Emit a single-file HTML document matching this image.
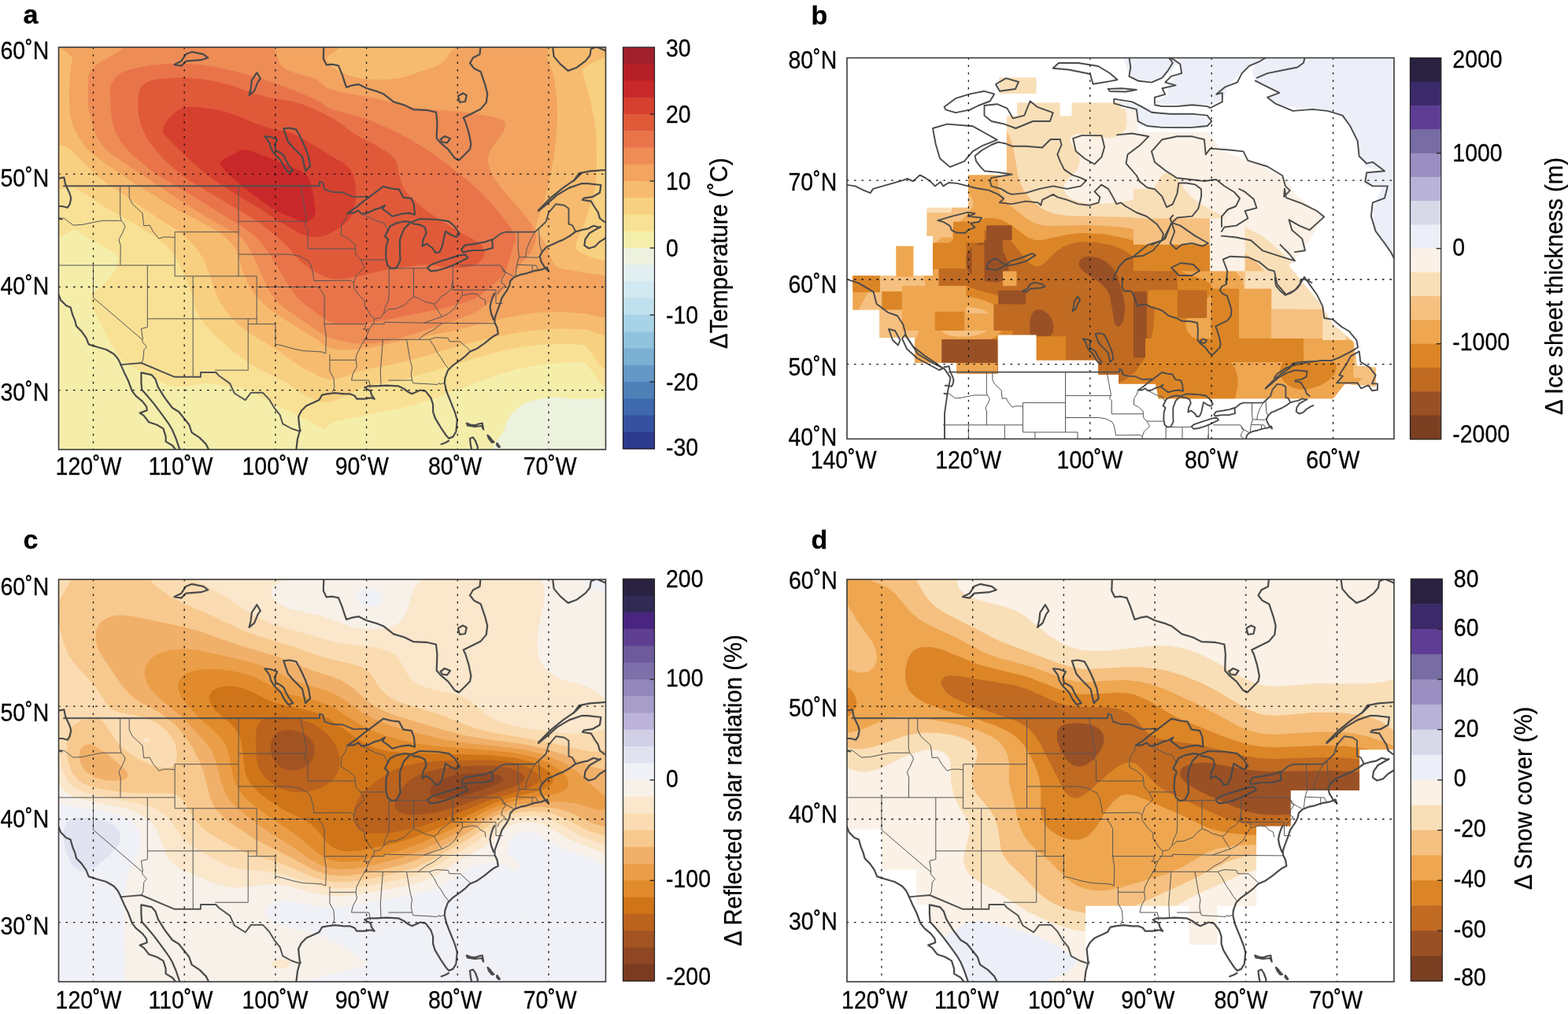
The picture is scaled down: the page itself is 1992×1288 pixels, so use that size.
<!DOCTYPE html>
<html><head><meta charset="utf-8"><title>Figure</title>
<style>
html,body{margin:0;padding:0;background:#fff;}
svg{display:block;}
text{font-family:"Liberation Sans", Arial, Helvetica, sans-serif;fill:#000;stroke:#000;stroke-width:0.3;}
.g{stroke:#111;stroke-width:1.3;stroke-dasharray:2.6 6.85;stroke-dashoffset:-9;fill:none;}
.coast{fill:none;stroke:#4a4a4a;stroke-width:2.2;stroke-linejoin:round;stroke-linecap:round;}
.state{fill:none;stroke:#555;stroke-width:1.0;stroke-linejoin:round;}
.coastb{fill:none;stroke:#4a4a4a;stroke-width:1.9;stroke-linejoin:round;stroke-linecap:round;}
.intl{fill:none;stroke:#505050;stroke-width:1.9;stroke-linejoin:round;}
.lake{stroke:#4a4a4a;stroke-width:2.2;stroke-linejoin:round;}
</style></head>
<body>
<svg width="1992" height="1288" viewBox="0 0 1992 1288">
<rect width="1992" height="1288" fill="#fff"/>
<defs><clipPath id="ca"><rect x="74.5" y="60.0" width="695.0" height="511.0"/></clipPath><clipPath id="cb"><rect x="1076.0" y="73.5" width="695.0" height="484.0"/></clipPath><clipPath id="cc"><rect x="74.5" y="736.0" width="695.0" height="511.0"/></clipPath><clipPath id="cd"><rect x="1076.0" y="736.0" width="695.0" height="511.0"/></clipPath></defs>
<g clip-path="url(#ca)"><rect x="72.5" y="58.0" width="699.0" height="515.0" fill="#f5eeab"/><path d="M636.0,580.0C612.8,574.2 638.5,554.2 641.0,545.0C643.5,535.8 646.0,530.7 651.0,525.0C656.0,519.3 662.8,514.3 671.0,511.0C679.2,507.7 690.2,505.7 700.0,505.0C709.8,504.3 716.7,505.7 730.0,507.0C743.3,508.3 771.7,500.8 780.0,513.0C788.3,525.2 804.0,568.8 780.0,580.0C756.0,591.2 659.2,585.8 636.0,580.0Z" fill="#edf2df"/><path d="M60.0,50.0C180.0,11.5 660.0,-18.7 780.0,50.0C900.0,118.7 786.7,393.7 780.0,462.0C773.3,530.3 753.3,460.0 740.0,460.0C726.7,460.0 713.2,460.7 700.0,462.0C686.8,463.3 674.2,465.0 661.0,468.0C647.8,471.0 634.3,475.5 621.0,480.0C607.7,484.5 594.3,490.0 581.0,495.0C567.7,500.0 554.2,505.8 541.0,510.0C527.8,514.2 515.2,517.0 502.0,520.0C488.8,523.0 475.3,525.2 462.0,528.0C448.7,530.8 430.3,534.2 422.0,537.0C413.7,539.8 417.0,545.3 412.0,545.0C407.0,544.7 398.7,538.3 392.0,535.0C385.3,531.7 378.7,528.3 372.0,525.0C365.3,521.7 358.5,518.3 352.0,515.0C345.5,511.7 339.5,508.3 333.0,505.0C326.5,501.7 319.7,497.3 313.0,495.0C306.3,492.7 301.3,492.3 293.0,491.0C284.7,489.7 273.0,487.0 263.0,487.0C253.0,487.0 241.3,490.7 233.0,491.0C224.7,491.3 219.7,491.0 213.0,489.0C206.3,487.0 200.3,482.7 193.0,479.0C185.7,475.3 175.7,471.0 169.0,467.0C162.3,463.0 157.8,460.3 153.0,455.0C148.2,449.7 143.8,441.7 140.0,435.0C136.2,428.3 133.3,421.7 130.0,415.0C126.7,408.3 122.3,401.5 120.0,395.0C117.7,388.5 114.3,381.5 116.0,376.0C117.7,370.5 125.2,367.2 130.0,362.0C134.8,356.8 141.7,350.7 145.0,345.0C148.3,339.3 150.8,332.5 150.0,328.0C149.2,323.5 145.3,321.7 140.0,318.0C134.7,314.3 125.3,310.2 118.0,306.0C110.7,301.8 105.7,297.2 96.0,293.0C86.3,288.8 66.0,321.5 60.0,281.0C54.0,240.5 -60.0,88.5 60.0,50.0Z" fill="#f8e195"/><path d="M60.0,50.0C180.0,21.3 660.0,-15.2 780.0,50.0C900.0,115.2 786.7,376.3 780.0,441.0C773.3,505.7 753.3,438.7 740.0,438.0C726.7,437.3 713.2,436.5 700.0,437.0C686.8,437.5 674.2,438.8 661.0,441.0C647.8,443.2 634.3,446.5 621.0,450.0C607.7,453.5 594.3,458.0 581.0,462.0C567.7,466.0 554.2,470.3 541.0,474.0C527.8,477.7 515.2,481.0 502.0,484.0C488.8,487.0 475.3,487.7 462.0,492.0C448.7,496.3 432.0,507.3 422.0,510.0C412.0,512.7 408.7,509.8 402.0,508.0C395.3,506.2 388.7,502.8 382.0,499.0C375.3,495.2 368.7,489.0 362.0,485.0C355.3,481.0 348.7,478.3 342.0,475.0C335.3,471.7 328.5,469.0 322.0,465.0C315.5,461.0 309.5,456.0 303.0,451.0C296.5,446.0 289.7,441.0 283.0,435.0C276.3,429.0 268.5,421.5 263.0,415.0C257.5,408.5 253.0,402.5 250.0,396.0C247.0,389.5 247.0,382.3 245.0,376.0C243.0,369.7 240.5,364.0 238.0,358.0C235.5,352.0 233.0,346.0 230.0,340.0C227.0,334.0 223.8,327.3 220.0,322.0C216.2,316.7 212.8,312.8 207.0,308.0C201.2,303.2 192.5,297.8 185.0,293.0C177.5,288.2 169.5,283.3 162.0,279.0C154.5,274.7 147.3,271.3 140.0,267.0C132.7,262.7 125.3,257.7 118.0,253.0C110.7,248.3 105.7,244.2 96.0,239.0C86.3,233.8 66.0,253.5 60.0,222.0C54.0,190.5 -60.0,78.7 60.0,50.0Z" fill="#f8d081"/><path d="M60.0,50.0C172.0,28.3 618.7,43.3 732.0,50.0C845.3,56.7 737.3,78.3 740.0,90.0C742.7,101.7 745.3,108.5 748.0,120.0C750.7,131.5 754.3,145.8 756.0,159.0C757.7,172.2 758.0,185.7 758.0,199.0C758.0,212.3 758.3,225.7 756.0,239.0C753.7,252.3 748.0,267.2 744.0,279.0C740.0,290.8 732.7,302.8 732.0,310.0C731.3,317.2 733.7,318.3 740.0,322.0C746.3,325.7 763.3,330.3 770.0,332.0C776.7,333.7 778.3,317.3 780.0,332.0C781.7,346.7 786.7,405.7 780.0,420.0C773.3,434.3 753.3,418.3 740.0,418.0C726.7,417.7 713.2,417.3 700.0,418.0C686.8,418.7 674.2,420.0 661.0,422.0C647.8,424.0 634.3,427.0 621.0,430.0C607.7,433.0 594.3,436.3 581.0,440.0C567.7,443.7 554.2,448.3 541.0,452.0C527.8,455.7 515.2,459.0 502.0,462.0C488.8,465.0 475.3,466.7 462.0,470.0C448.7,473.3 433.7,481.8 422.0,482.0C410.3,482.2 400.3,474.8 392.0,471.0C383.7,467.2 378.7,463.3 372.0,459.0C365.3,454.7 358.2,449.2 352.0,445.0C345.8,440.8 340.7,437.5 335.0,434.0C329.3,430.5 323.8,428.0 318.0,424.0C312.2,420.0 305.5,415.3 300.0,410.0C294.5,404.7 289.3,398.3 285.0,392.0C280.7,385.7 277.2,379.3 274.0,372.0C270.8,364.7 269.0,355.8 266.0,348.0C263.0,340.2 260.3,332.2 256.0,325.0C251.7,317.8 245.8,310.8 240.0,305.0C234.2,299.2 227.8,294.8 221.0,290.0C214.2,285.2 206.3,280.8 199.0,276.0C191.7,271.2 184.3,266.0 177.0,261.0C169.7,256.0 162.3,251.0 155.0,246.0C147.7,241.0 140.3,236.7 133.0,231.0C125.7,225.3 117.8,218.5 111.0,212.0C104.2,205.5 97.2,196.5 92.0,192.0C86.8,187.5 85.3,187.0 80.0,185.0C74.7,183.0 63.3,202.5 60.0,180.0C56.7,157.5 -52.0,71.7 60.0,50.0Z" fill="#f6bb6f"/><path d="M103.0,50.0C156.0,45.8 358.0,45.8 410.0,50.0C462.0,54.2 411.7,68.3 415.0,75.0C418.3,81.7 422.2,85.8 430.0,90.0C437.8,94.2 450.0,98.3 462.0,100.0C474.0,101.7 490.5,101.3 502.0,100.0C513.5,98.7 521.2,95.3 531.0,92.0C540.8,88.7 551.0,86.2 561.0,80.0C571.0,73.8 570.2,60.0 591.0,55.0C611.8,50.0 668.5,46.5 686.0,50.0C703.5,53.5 693.0,67.7 696.0,76.0C699.0,84.3 702.0,89.3 704.0,100.0C706.0,110.7 707.7,126.8 708.0,140.0C708.3,153.2 707.3,165.8 706.0,179.0C704.7,192.2 702.7,205.7 700.0,219.0C697.3,232.3 693.2,247.3 690.0,259.0C686.8,270.7 681.0,281.3 681.0,289.0C681.0,296.7 687.5,300.5 690.0,305.0C692.5,309.5 694.3,312.2 696.0,316.0C697.7,319.8 697.7,324.0 700.0,328.0C702.3,332.0 703.3,337.0 710.0,340.0C716.7,343.0 729.2,343.3 740.0,346.0C750.8,348.7 769.2,347.0 775.0,356.0C780.8,365.0 780.8,393.0 775.0,400.0C769.2,407.0 752.5,398.7 740.0,398.0C727.5,397.3 713.2,395.7 700.0,396.0C686.8,396.3 674.2,397.8 661.0,400.0C647.8,402.2 634.3,405.8 621.0,409.0C607.7,412.2 594.3,416.0 581.0,419.0C567.7,422.0 554.2,424.3 541.0,427.0C527.8,429.7 515.2,432.3 502.0,435.0C488.8,437.7 475.3,441.7 462.0,443.0C448.7,444.3 432.0,445.0 422.0,443.0C412.0,441.0 408.7,435.0 402.0,431.0C395.3,427.0 388.7,423.2 382.0,419.0C375.3,414.8 368.7,410.5 362.0,406.0C355.3,401.5 348.7,397.7 342.0,392.0C335.3,386.3 327.5,379.7 322.0,372.0C316.5,364.3 312.7,355.0 309.0,346.0C305.3,337.0 304.0,325.7 300.0,318.0C296.0,310.3 290.7,305.0 285.0,300.0C279.3,295.0 272.8,292.0 266.0,288.0C259.2,284.0 251.5,280.0 244.0,276.0C236.5,272.0 228.5,268.3 221.0,264.0C213.5,259.7 206.3,254.5 199.0,250.0C191.7,245.5 184.3,241.7 177.0,237.0C169.7,232.3 162.8,227.3 155.0,222.0C147.2,216.7 137.5,210.7 130.0,205.0C122.5,199.3 115.3,193.8 110.0,188.0C104.7,182.2 101.3,176.3 98.0,170.0C94.7,163.7 91.7,158.3 90.0,150.0C88.3,141.7 88.2,128.8 88.0,120.0C87.8,111.2 88.3,104.5 89.0,97.0C89.7,89.5 89.7,82.8 92.0,75.0C94.3,67.2 50.0,54.2 103.0,50.0Z" fill="#f2a460"/><path d="M112.0,104.0C112.2,97.3 111.2,97.7 113.0,94.0C114.8,90.3 117.7,86.2 123.0,82.0C128.3,77.8 138.0,73.0 145.0,69.0C152.0,65.0 155.8,61.2 165.0,58.0C174.2,54.8 172.5,51.3 200.0,50.0C227.5,48.7 303.3,44.0 330.0,50.0C356.7,56.0 348.3,77.7 360.0,86.0C371.7,94.3 389.7,95.3 400.0,100.0C410.3,104.7 408.3,109.7 422.0,114.0C435.7,118.3 465.5,122.3 482.0,126.0C498.5,129.7 507.8,133.7 521.0,136.0C534.2,138.3 547.7,138.7 561.0,140.0C574.3,141.3 588.3,142.0 601.0,144.0C613.7,146.0 630.3,148.8 637.0,152.0C643.7,155.2 642.0,158.5 641.0,163.0C640.0,167.5 634.3,173.7 631.0,179.0C627.7,184.3 622.7,189.7 621.0,195.0C619.3,200.3 619.3,205.0 621.0,211.0C622.7,217.0 626.0,223.7 631.0,231.0C636.0,238.3 644.3,247.0 651.0,255.0C657.7,263.0 666.0,271.7 671.0,279.0C676.0,286.3 680.3,292.2 681.0,299.0C681.7,305.8 678.3,313.8 675.0,320.0C671.7,326.2 666.7,328.3 661.0,336.0C655.3,343.7 649.3,356.7 641.0,366.0C632.7,375.3 621.0,385.3 611.0,392.0C601.0,398.7 592.7,401.5 581.0,406.0C569.3,410.5 554.2,414.8 541.0,419.0C527.8,423.2 515.2,428.0 502.0,431.0C488.8,434.0 475.3,437.2 462.0,437.0C448.7,436.8 432.3,433.2 422.0,430.0C411.7,426.8 407.0,422.3 400.0,418.0C393.0,413.7 386.7,408.7 380.0,404.0C373.3,399.3 365.8,395.0 360.0,390.0C354.2,385.0 349.5,380.7 345.0,374.0C340.5,367.3 337.2,358.7 333.0,350.0C328.8,341.3 324.7,330.3 320.0,322.0C315.3,313.7 310.3,305.3 305.0,300.0C299.7,294.7 294.5,293.7 288.0,290.0C281.5,286.3 273.3,282.3 266.0,278.0C258.7,273.7 251.3,268.7 244.0,264.0C236.7,259.3 229.3,254.8 222.0,250.0C214.7,245.2 207.3,240.0 200.0,235.0C192.7,230.0 185.5,225.0 178.0,220.0C170.5,215.0 162.2,210.0 155.0,205.0C147.8,200.0 140.5,195.5 135.0,190.0C129.5,184.5 125.2,178.5 122.0,172.0C118.8,165.5 117.7,157.3 116.0,151.0C114.3,144.7 112.7,141.8 112.0,134.0C111.3,126.2 111.8,110.7 112.0,104.0Z" fill="#ee8c56"/><path d="M140.0,116.0C140.2,108.3 140.5,108.0 143.0,104.0C145.5,100.0 148.0,95.3 155.0,92.0C162.0,88.7 174.0,85.8 185.0,84.0C196.0,82.2 208.5,81.2 221.0,81.0C233.5,80.8 246.8,81.3 260.0,83.0C273.2,84.7 285.0,87.2 300.0,91.0C315.0,94.8 333.3,100.2 350.0,106.0C366.7,111.8 388.0,120.5 400.0,126.0C412.0,131.5 411.7,135.0 422.0,139.0C432.3,143.0 448.7,145.3 462.0,150.0C475.3,154.7 490.5,161.5 502.0,167.0C513.5,172.5 521.2,177.0 531.0,183.0C540.8,189.0 552.7,197.0 561.0,203.0C569.3,209.0 574.3,213.7 581.0,219.0C587.7,224.3 594.3,229.0 601.0,235.0C607.7,241.0 614.3,247.7 621.0,255.0C627.7,262.3 635.3,271.5 641.0,279.0C646.7,286.5 653.3,293.8 655.0,300.0C656.7,306.2 653.3,308.3 651.0,316.0C648.7,323.7 646.0,337.7 641.0,346.0C636.0,354.3 627.7,360.3 621.0,366.0C614.3,371.7 611.0,375.7 601.0,380.0C591.0,384.3 574.3,388.7 561.0,392.0C547.7,395.3 534.2,397.3 521.0,400.0C507.8,402.7 495.2,406.0 482.0,408.0C468.8,410.0 452.0,411.7 442.0,412.0C432.0,412.3 429.0,412.7 422.0,410.0C415.0,407.3 407.0,401.0 400.0,396.0C393.0,391.0 385.8,386.0 380.0,380.0C374.2,374.0 370.0,367.5 365.0,360.0C360.0,352.5 355.0,343.0 350.0,335.0C345.0,327.0 340.3,318.7 335.0,312.0C329.7,305.3 324.2,300.0 318.0,295.0C311.8,290.0 305.2,286.5 298.0,282.0C290.8,277.5 283.0,273.0 275.0,268.0C267.0,263.0 258.3,257.2 250.0,252.0C241.7,246.8 233.3,242.0 225.0,237.0C216.7,232.0 207.8,227.3 200.0,222.0C192.2,216.7 184.7,210.7 178.0,205.0C171.3,199.3 165.0,193.8 160.0,188.0C155.0,182.2 151.0,176.3 148.0,170.0C145.0,163.7 143.3,159.0 142.0,150.0C140.7,141.0 139.8,123.7 140.0,116.0Z" fill="#e9744a"/><path d="M177.0,116.0C179.3,109.0 182.7,105.8 190.0,103.0C197.3,100.2 210.8,99.5 221.0,99.0C231.2,98.5 239.8,98.7 251.0,100.0C262.2,101.3 274.2,103.3 288.0,107.0C301.8,110.7 318.7,118.0 334.0,122.0C349.3,126.0 365.3,126.3 380.0,131.0C394.7,135.7 410.0,143.3 422.0,150.0C434.0,156.7 442.0,164.8 452.0,171.0C462.0,177.2 473.7,181.7 482.0,187.0C490.3,192.3 497.7,196.7 502.0,203.0C506.3,209.3 505.8,218.5 508.0,225.0C510.2,231.5 510.5,235.8 515.0,242.0C519.5,248.2 527.5,255.7 535.0,262.0C542.5,268.3 551.7,274.5 560.0,280.0C568.3,285.5 576.7,290.0 585.0,295.0C593.3,300.0 605.0,305.0 610.0,310.0C615.0,315.0 616.7,320.3 615.0,325.0C613.3,329.7 607.5,335.5 600.0,338.0C592.5,340.5 580.0,340.3 570.0,340.0C560.0,339.7 550.0,336.0 540.0,336.0C530.0,336.0 520.0,338.5 510.0,340.0C500.0,341.5 490.0,343.0 480.0,345.0C470.0,347.0 459.7,350.5 450.0,352.0C440.3,353.5 430.3,355.2 422.0,354.0C413.7,352.8 407.0,349.0 400.0,345.0C393.0,341.0 386.3,335.8 380.0,330.0C373.7,324.2 367.8,315.8 362.0,310.0C356.2,304.2 351.2,300.0 345.0,295.0C338.8,290.0 332.5,285.0 325.0,280.0C317.5,275.0 308.3,270.0 300.0,265.0C291.7,260.0 283.3,255.0 275.0,250.0C266.7,245.0 257.8,240.0 250.0,235.0C242.2,230.0 235.5,226.0 228.0,220.0C220.5,214.0 212.2,207.0 205.0,199.0C197.8,191.0 189.8,181.0 185.0,172.0C180.2,163.0 177.3,154.3 176.0,145.0C174.7,135.7 174.7,123.0 177.0,116.0Z" fill="#e05a3a"/><path d="M207.0,163.0C209.0,156.0 220.2,142.2 230.0,138.0C239.8,133.8 255.2,136.8 266.0,138.0C276.8,139.2 283.7,141.3 295.0,145.0C306.3,148.7 321.2,155.8 334.0,160.0C346.8,164.2 361.0,165.8 372.0,170.0C383.0,174.2 391.7,180.2 400.0,185.0C408.3,189.8 415.3,194.8 422.0,199.0C428.7,203.2 435.3,205.5 440.0,210.0C444.7,214.5 448.0,219.3 450.0,226.0C452.0,232.7 452.7,241.8 452.0,250.0C451.3,258.2 449.7,268.3 446.0,275.0C442.3,281.7 436.0,285.8 430.0,290.0C424.0,294.2 416.7,298.3 410.0,300.0C403.3,301.7 396.7,301.7 390.0,300.0C383.3,298.3 376.7,293.7 370.0,290.0C363.3,286.3 356.7,282.2 350.0,278.0C343.3,273.8 337.5,269.7 330.0,265.0C322.5,260.3 313.3,255.2 305.0,250.0C296.7,244.8 287.8,239.3 280.0,234.0C272.2,228.7 265.3,224.0 258.0,218.0C250.7,212.0 242.7,204.3 236.0,198.0C229.3,191.7 222.8,185.8 218.0,180.0C213.2,174.2 205.0,170.0 207.0,163.0Z" fill="#d6402f"/><path d="M280.0,206.0C281.3,202.2 290.8,198.7 296.0,196.0C301.2,193.3 305.3,190.0 311.0,190.0C316.7,190.0 323.8,193.8 330.0,196.0C336.2,198.2 341.3,200.3 348.0,203.0C354.7,205.7 363.3,209.0 370.0,212.0C376.7,215.0 383.8,217.2 388.0,221.0C392.2,224.8 393.2,229.3 395.0,235.0C396.8,240.7 398.2,248.8 399.0,255.0C399.8,261.2 401.8,267.5 400.0,272.0C398.2,276.5 393.0,281.3 388.0,282.0C383.0,282.7 376.0,278.3 370.0,276.0C364.0,273.7 357.8,271.2 352.0,268.0C346.2,264.8 340.3,260.7 335.0,257.0C329.7,253.3 325.8,250.5 320.0,246.0C314.2,241.5 305.3,234.5 300.0,230.0C294.7,225.5 291.3,223.0 288.0,219.0C284.7,215.0 278.7,209.8 280.0,206.0Z" fill="#c9282a"/><path class="state" d="M72.2,276.7 L81.5,277.4 L93.0,286.1 L104.6,285.4 L123.1,281.5 L130.1,280.3 L154.1,280.3"/><path class="state" d="M152.7,236.3 L152.7,274.1 L154.1,280.3 L156.7,283.2 L159.0,287.5 L155.5,296.1 L150.9,304.7 L153.2,311.8 L152.9,337.0"/><path class="state" d="M69.9,337.0 L222.1,337.0"/><path class="state" d="M118.5,337.0 L118.5,378.1 L180.6,431.3"/><path class="state" d="M187.3,337.0 L187.3,415.5 L179.4,417.5 L181.3,430.0 L180.6,433.9 L186.4,440.5 L182.9,444.4 L181.8,457.0 L179.6,461.0"/><path class="state" d="M164.2,236.3 L164.2,251.1 L168.3,259.2 L181.0,270.9 L182.7,286.7 L190.2,286.1 L194.3,293.8 L201.8,303.2 L207.6,301.1 L216.8,301.1 L222.1,301.8"/><path class="state" d="M222.1,294.7 L222.1,350.8 L245.2,350.8 L326.2,350.8"/><path class="state" d="M222.1,294.7 L303.0,294.7"/><path class="state" d="M303.0,236.3 L303.0,350.8"/><path class="state" d="M187.3,404.9 L326.2,404.9"/><path class="state" d="M245.2,350.8 L245.2,478.8"/><path class="state" d="M326.2,350.8 L326.2,411.6"/><path class="state" d="M326.2,364.5 L404.3,364.5"/><path class="state" d="M315.2,404.9 L315.2,470.2 L273.3,470.2"/><path class="state" d="M315.2,411.6 L349.9,411.6 L349.9,437.1 L359.2,439.2 L373.0,443.1 L385.8,445.7 L398.5,446.3 L408.9,447.0 L413.8,449.1"/><path class="state" d="M412.1,404.9 L412.1,376.7 L408.9,369.9 L404.3,364.5"/><path class="state" d="M303.0,281.2 L389.7,281.2"/><path class="state" d="M303.0,323.0 L367.3,323.0 L380.0,325.1 L389.2,330.0 L391.0,330.1"/><path class="state" d="M381.9,236.3 L385.8,257.0 L389.2,276.0 L389.7,281.2 L386.3,286.1 L391.0,290.4 L391.0,316.0"/><path class="state" d="M391.0,316.0 L451.5,316.0"/><path class="state" d="M391.0,330.1 L395.0,337.0 L397.9,348.0 L398.8,356.6"/><path class="state" d="M398.8,356.6 L445.6,356.2 L449.4,359.0"/><path class="state" d="M412.1,411.6 L463.9,411.6 L464.8,415.5 L461.3,418.2 L469.1,418.2"/><path class="state" d="M412.1,404.9 L412.1,411.6 L414.3,426.1 L413.8,449.1"/><path class="state" d="M418.9,450.2 L418.9,457.3 L452.1,457.3"/><path class="state" d="M418.9,457.3 L418.9,471.5 L423.9,480.4 L424.8,491.9 L422.2,498.2"/><path class="state" d="M446.5,483.0 L468.7,483.0 L470.2,489.4 L470.2,493.2"/><path class="state" d="M486.4,431.3 L483.3,471.5 L484.1,490.6"/><path class="state" d="M516.5,431.3 L521.4,459.3 L523.5,466.4 L522.3,475.3 L523.5,483.0"/><path class="state" d="M493.4,483.1 L523.5,483.0 L525.1,486.8 L540.8,487.5 L555.8,488.5 L557.7,486.2 L558.7,488.1 L563.9,486.6"/><path class="state" d="M462.1,431.3 L531.3,431.3 L545.4,431.3"/><path class="state" d="M471.4,411.6 L488.2,411.6 L487.9,409.2 L538.5,410.2 L561.9,410.4 L629.1,410.9"/><path class="state" d="M561.9,410.4 L551.2,418.6 L540.8,424.1 L531.3,431.3"/><path class="state" d="M545.4,431.3 L553.5,428.7 L569.3,429.4 L570.9,433.7 L584.8,433.9 L598.1,446.3"/><path class="state" d="M545.4,431.3 L551.2,439.2 L555.8,448.3 L560.5,454.8 L565.1,462.5 L570.9,469.6"/><path class="state" d="M451.5,316.0 L451.7,323.0 L458.1,330.0 L463.3,339.7 L452.9,349.4 L449.4,359.0 L449.4,365.9 L457.5,376.7 L463.3,382.1 L463.3,388.9 L471.4,400.9 L475.7,404.9 L474.9,410.2 L469.1,418.2 L464.4,430.0 L458.7,439.2 L452.9,450.9 L452.1,457.3 L453.5,465.1 L448.2,475.3 L446.5,483.0"/><path class="state" d="M475.7,404.9 L483.0,403.6 L487.6,398.2 L493.4,392.9 L502.6,392.2 L507.3,390.2 L514.2,387.5 L518.8,382.1 L525.8,376.7 L531.5,378.8 L538.5,382.8 L551.2,386.2 L555.8,383.5 L560.5,376.7 L567.4,372.7 L573.2,367.2 L575.3,355.7"/><path class="state" d="M551.2,386.2 L558.2,397.6 L561.6,402.3 L553.5,404.9 L538.5,410.2"/><path class="state" d="M494.2,340.3 L494.2,373.3 L493.4,382.1 L489.9,388.9 L488.2,394.2 L487.6,398.2"/><path class="state" d="M525.5,341.1 L525.5,376.7"/><path class="state" d="M494.5,341.1 L541.4,340.7"/><path class="state" d="M458.2,330.0 L491.1,330.0"/><path class="state" d="M575.3,337.0 L575.3,368.3 L630.0,368.3"/><path class="state" d="M584.1,337.0 L635.1,337.0 L638.0,339.7 L642.6,346.0 L651.9,350.8"/><path class="state" d="M635.1,337.0 L638.0,339.7 L639.1,344.6 L642.6,346.0 L638.0,353.5 L636.8,359.0 L641.5,361.8 L638.0,365.9 L633.4,369.9 L632.7,374.0"/><path class="state" d="M575.3,368.3 L587.3,368.3 L587.3,375.4 L599.8,372.7 L606.8,374.0 L610.2,378.1 L616.0,380.8 L617.2,387.5"/><path class="state" d="M587.3,375.4 L581.3,384.8 L577.8,391.6 L569.7,398.2 L561.6,402.3"/><path class="state" d="M630.0,368.3 L630.0,385.5 L638.6,385.5"/><path class="state" d="M441.3,270.2 L439.0,278.9 L433.8,286.1 L433.2,298.3 L442.5,303.2 L450.6,310.3 L451.5,316.0"/><path class="state" d="M461.0,272.1 L477.2,280.3 L487.6,283.2 L493.4,293.3"/><path class="state" d="M658.2,294.6 L658.2,314.6 L659.4,326.5 L656.5,336.3 L654.8,350.8"/><path class="state" d="M659.4,326.5 L682.0,327.2 L686.6,325.1"/><path class="state" d="M656.5,336.3 L676.2,337.0 L680.8,337.0 L684.3,343.9"/><path class="state" d="M676.2,337.0 L676.2,346.7"/><path class="state" d="M667.5,326.8 L669.2,316.0 L673.9,304.7 L679.6,294.6"/><path class="state" d="M684.5,290.4 L685.7,311.8 L688.9,321.6"/><path class="intl" d="M80.3,236.3 L406.0,236.3 L406.0,230.6 L410.1,231.8 L412.4,240.7 L421.6,243.7 L435.5,244.5 L449.4,250.4 L465.6,249.6 L470.2,251.1"/><path class="intl" d="M624.1,306.1 L635.7,296.8 L642.6,294.7 L679.6,294.6 L684.3,290.4 L693.5,281.8 L697.0,270.2 L706.3,259.2 L716.7,260.7 L722.5,264.8 L722.5,284.6 L727.1,286.1 L731.7,294.7"/><path class="intl" d="M152.1,463.4 L179.6,461.0 L221.8,478.8 L254.9,478.8 L254.9,473.0 L274.3,473.0 L278.2,477.3 L292.1,487.1 L297.8,499.5 L311.7,508.3 L318.7,498.9 L333.7,498.6 L341.8,507.1 L348.7,518.4 L355.7,527.1 L359.2,538.3 L370.7,544.5 L380.0,547.6 L382.9,546.4"/><path class="coast" d="M74.0,373.2 L77.3,381.4 L83.9,388.0 L89.6,390.5 L92.1,399.5 L95.4,407.7 L97.0,414.3 L103.6,420.9 L109.4,429.1 L112.7,437.4 L123.4,440.7 L134.9,444.0 L144.8,449.7 L149.7,455.5 L153.0,462.1 L158.0,473.6 L162.9,483.5 L167.8,496.6 L172.8,503.2 L181.0,509.8 L186.0,516.4 L186.8,521.3 L177.7,524.6 L182.7,527.9 L189.2,536.2 L199.1,539.5 L207.4,544.4 L210.6,554.3 L210.6,560.9 L218.9,565.8 L225.5,574.0"/><path class="coast" d="M179.4,473.6 L179.4,485.1 L180.2,495.0 L186.0,501.6 L195.8,513.1 L205.7,526.3 L214.0,537.8 L218.9,546.0 L223.8,557.6 L227.1,567.4 L229.6,574.0"/><path class="coast" d="M179.4,473.6 L181.0,473.6 L192.5,476.1 L197.5,481.8 L200.8,491.7 L209.0,504.9 L218.9,518.0 L227.1,523.0 L233.7,531.2 L240.3,539.5 L243.6,549.3 L253.5,555.9 L261.7,564.1 L266.6,574.0"/><path class="coast" d="M376.0,574.0 L377.9,558.0 L381.0,546.8 L379.7,535.5 L379.1,529.2 L382.9,521.7 L389.1,515.4 L397.9,511.6 L405.5,507.9 L409.2,501.6 L415.5,500.3 L425.5,499.1 L436.8,500.3 L444.4,500.3 L450.6,502.8 L453.2,506.6 L463.2,506.6 L470.7,505.3 L475.7,506.6 L472.0,501.6 L470.7,496.6 L465.7,494.0 L463.2,492.2 L468.2,490.3 L478.3,490.3 L490.8,489.7 L505.9,490.3 L513.4,494.0 L518.0,497.5 L523.4,500.2 L534.0,495.5 L540.7,496.8 L547.4,505.5 L550.1,513.5 L550.1,522.9 L552.7,530.9 L556.7,537.6 L560.7,544.2 L566.1,552.2 L570.1,556.9 L575.4,554.9 L579.4,548.2 L580.8,533.5 L578.1,524.2 L572.8,510.8 L567.4,497.5 L564.8,486.8 L565.4,480.1 L568.8,470.8 L575.4,464.1 L584.8,457.4 L591.5,452.1 L596.8,446.7 L606.2,442.7 L615.5,436.1 L622.2,430.7 L627.5,426.7 L632.9,424.0 L631.5,416.0 L628.5,410.0 L628.5,404.0 L631.0,397.0 L634.5,387.7 L637.6,378.4 L640.7,373.7 L643.9,369.1 L647.0,362.9 L648.5,356.6 L653.2,352.0 L660.9,348.9 L668.7,347.3 L678.0,344.2 L687.3,342.7 L695.1,339.6 L696.6,344.2 L693.0,341.0 L687.3,331.8 L685.8,325.6 L688.9,319.4 L695.1,313.2 L702.9,310.1 L709.1,307.0 L715.3,304.6 L724.6,299.2 L730.8,294.5 L738.6,292.2 L746.3,290.7 L754.1,286.8 L761.9,289.1"/><path class="coast" d="M627.0,406.0 L624.0,398.0 L622.5,390.0 L624.0,383.0 L626.0,377.0 L628.0,373.0"/><path class="coast" d="M763.0,288.0 L756.0,292.0 L749.0,296.0 L743.5,303.8 L742.4,311.6 L747.9,315.5 L755.6,313.2 L761.9,307.0 L769.6,302.3 L775.0,300.0"/><path class="coast" d="M684.0,268.0 L695.1,258.8 L707.5,247.9 L723.0,238.6 L738.6,233.2 L746.3,233.2 L763.4,235.0 L762.0,244.8 L752.5,250.2 L741.7,251.7 L740.0,254.0 L751.0,255.7 L755.6,263.5 L759.8,269.7 L762.0,277.4 L768.0,282.0"/><path class="coast" d="M684.0,267.0 L699.8,251.1 L715.3,238.6 L730.8,227.8 L738.6,220.0"/><path class="coast" d="M728.6,229.8 L735.6,220.1 L749.4,217.3 L768.8,216.0 L775.0,216.0"/><path class="coast" d="M411.3,56.0 L411.3,60.2 L410.8,74.5 L414.6,82.3 L422.3,81.7 L430.0,83.4 L434.5,94.4 L437.8,104.3 L440.0,110.9 L446.6,108.7 L455.4,107.1 L465.3,112.0 L480.0,116.4 L487.6,119.6 L500.0,129.4 L513.9,133.5 L524.9,139.1 L541.6,139.8 L554.0,142.5 L555.4,155.0 L554.7,175.8 L559.6,181.3 L569.3,189.6 L577.6,200.7 L583.1,203.5 L588.7,198.0 L597.0,189.6 L598.4,182.7 L595.6,168.8 L591.4,155.0 L588.7,149.5 L599.8,143.9 L610.8,138.4 L617.8,130.1 L619.2,119.0 L616.4,107.9 L610.8,91.3 L602.5,87.1 L597.0,80.2 L601.1,73.2 L609.5,69.1 L610.8,56.0"/><path class="coast" d="M702.3,56.0 L702.3,60.8 L703.7,71.9 L712.0,81.6 L721.7,89.9 L732.8,85.7 L743.9,77.4 L749.4,70.5 L750.8,62.2 L757.7,59.4 L767.4,63.5 L772.0,66.0"/><path class="coast" d="M72.0,226.9 L81.4,225.4 L82.8,232.8 L85.8,240.1 L88.7,246.0 L90.2,252.0 L88.7,259.3 L85.8,263.7 L79.0,262.0 L74.0,262.0"/><path class="coast" d="M72.0,277.0 L78.4,278.5"/><path class="coast" d="M560.7,564.3 L566.1,562.3 L570.0,560.0"/><path class="coast" d="M441.6,270.6 L451.1,264.3 L461.6,255.8 L474.3,246.4 L486.9,236.9 L497.5,239.5 L507.0,240.6 L512.2,250.6 L522.8,252.2 L525.9,260.1 L527.0,272.7 L519.6,270.6 L510.1,271.7 L498.5,274.8 L493.3,270.6 L485.9,265.3 L489.0,260.6 L482.7,264.3 L475.3,266.4 L466.9,270.6 L459.5,271.7 L455.3,267.4 L449.0,270.6Z"/><path class="coast" d="M489.0,300.1 L495.4,287.5 L503.8,283.3 L514.3,281.1 L521.7,282.2 L518.6,285.4 L513.3,290.6 L511.2,295.9 L508.0,304.3 L508.0,320.1 L508.5,330.7 L503.8,340.2 L497.5,341.2 L492.2,337.0 L490.1,325.4 L490.6,312.8 L493.3,304.3Z"/><path class="coast" d="M522.8,282.2 L533.3,278.0 L546.0,278.5 L556.5,279.0 L570.2,281.1 L577.6,287.5 L583.9,297.0 L579.7,301.2 L572.3,298.0 L566.0,293.8 L563.9,303.3 L561.8,312.8 L558.6,320.1 L553.3,321.2 L549.1,314.9 L541.7,309.6 L536.5,312.8 L537.5,304.3 L541.7,295.9 L539.6,288.5 L533.3,285.4 L524.9,284.3Z"/><path class="coast" d="M542.8,340.2 L548.1,336.0 L559.7,331.7 L570.2,328.6 L582.9,324.4 L591.3,323.3 L594.5,327.5 L586.0,331.7 L577.6,336.0 L567.0,340.2 L556.5,343.3 L547.0,344.4Z"/><path class="coast" d="M586.0,317.0 L590.2,311.7 L603.9,309.6 L615.5,307.5 L625.0,304.3 L626.1,314.9 L614.5,318.0 L600.8,318.0 L588.1,320.1Z"/><path class="coast" d="M360.3,163.4 L368.0,162.5 L376.2,164.4 L380.0,171.0 L384.1,179.3 L388.0,188.0 L392.1,199.2 L394.1,211.1 L388.1,217.1 L386.0,208.0 L384.1,199.2 L378.0,193.0 L372.2,187.2 L366.0,180.0 L364.3,175.3Z"/><path class="coast" d="M336.4,173.3 L344.0,174.0 L352.3,177.3 L349.0,184.0 L350.3,191.2 L356.0,194.0 L360.3,197.2 L363.0,203.0 L366.3,209.1 L372.2,217.1 L366.3,219.0 L361.0,212.0 L356.3,203.1 L348.4,195.2 L344.0,188.0 L342.4,181.3Z"/><path class="coast" d="M326.4,92.2 L330.8,99.9 L327.5,104.3 L323.1,115.3 L316.5,120.9 L318.7,112.0 L319.8,102.1Z"/><path class="coast" d="M221.5,82.1 L230.3,77.7 L236.2,68.8 L243.6,65.9 L258.4,68.8 L264.3,73.3 L255.4,76.2 L236.2,77.7 L230.3,83.6Z"/><path class="coast" d="M559.6,177.0 L565.0,173.0 L572.0,176.0 L568.0,181.3 L562.0,180.5Z"/><path class="coast" d="M582.0,122.0 L588.0,118.5 L592.8,121.0 L591.0,129.0 L584.0,130.0Z"/><path class="coast" d="M592.8,537.6 L598.0,539.5 L603.5,540.2 L608.0,538.5 L612.8,537.6 L614.2,545.6 L612.0,541.0 L603.0,542.0 L594.0,540.5Z"/><path class="coast" d="M597.0,557.0 L601.0,555.5 L604.0,560.0 L607.0,568.0 L606.0,574.0 L600.0,574.0 L598.0,566.0Z"/><path class="coast" d="M619.5,552.9 L622.0,555.0 L624.8,558.9 L627.5,561.6 L625.0,562.0 L621.0,557.0Z"/><path class="coast" d="M631.5,562.9 L633.0,565.0 L634.9,567.6 L633.5,568.0 L631.0,565.0Z"/><line x1="118.5" y1="60.0" x2="118.5" y2="571.0" class="g"/>
<line x1="234.2" y1="60.0" x2="234.2" y2="571.0" class="g"/>
<line x1="349.9" y1="60.0" x2="349.9" y2="571.0" class="g"/>
<line x1="465.6" y1="60.0" x2="465.6" y2="571.0" class="g"/>
<line x1="581.3" y1="60.0" x2="581.3" y2="571.0" class="g"/>
<line x1="697.0" y1="60.0" x2="697.0" y2="571.0" class="g"/>
<line x1="74.5" y1="495.7" x2="769.5" y2="495.7" class="g"/>
<line x1="74.5" y1="364.5" x2="769.5" y2="364.5" class="g"/>
<line x1="74.5" y1="221.2" x2="769.5" y2="221.2" class="g"/></g><rect x="74.5" y="60.0" width="695.0" height="511.0" fill="none" stroke="#3a3a3a" stroke-width="1.6"/>
<g clip-path="url(#cb)"><rect x="1076.0" y="73.5" width="695.0" height="484.0" fill="#fff"/><defs><clipPath id="iceclip"><path d="M1230.1,222.4 L1424.0,222.4 L1424.0,457.3 L1230.1,457.3Z"/><path d="M1278.9,147.3 L1424.0,147.3 L1424.0,222.4 L1278.9,222.4Z"/><path d="M1292.1,130.4 L1346.6,130.4 L1346.6,147.3 L1292.1,147.3Z"/><path d="M1177.5,263.8 L1230.1,263.8 L1230.1,299.5 L1177.5,299.5Z"/><path d="M1185.0,299.5 L1230.1,299.5 L1230.1,461.1 L1185.0,461.1Z"/><path d="M1138.0,312.6 L1160.6,312.6 L1160.6,354.0 L1138.0,354.0Z"/><path d="M1083.5,350.2 L1185.0,350.2 L1185.0,393.4 L1083.5,393.4Z"/><path d="M1117.3,393.4 L1185.0,393.4 L1185.0,429.1 L1117.3,429.1Z"/><path d="M1162.4,429.1 L1267.7,429.1 L1267.7,461.1 L1162.4,461.1Z"/><path d="M1215.0,461.1 L1267.7,461.1 L1267.7,474.2 L1215.0,474.2Z"/><path d="M1395.4,457.3 L1424.0,457.3 L1424.0,476.1 L1395.4,476.1Z"/><path d="M1269.5,98.4 L1316.5,98.4 L1316.5,119.1 L1269.5,119.1Z"/><path d="M1361.6,130.4 L1424.0,130.4 L1424.0,154.8 L1361.6,154.8Z"/><path d="M1421.1,167.9 L1535.7,167.9 L1550.8,190.5 L1599.6,209.3 L1633.4,228.1 L1648.5,250.6 L1682.3,273.2 L1667.3,299.5 L1656.0,318.3 L1637.2,337.1 L1652.2,355.8 L1674.8,382.2 L1693.6,412.2 L1719.9,434.8 L1723.6,464.8 L1748.1,466.7 L1748.1,491.1 L1708.6,487.4 L1693.6,506.2 L1471.9,506.2 L1468.1,487.4 L1421.1,487.4Z"/><path d="M1421.1,137.9 L1445.5,137.9 L1445.5,167.9 L1421.1,167.9Z"/></clipPath></defs><g clip-path="url(#iceclip)"><rect x="1076.0" y="73.5" width="695.0" height="484.0" fill="#fbf1e6"/><path fill-rule="evenodd" fill="#f9dfb8" d="M1074.0,69.5 1427.7,69.5 1423.0,75.5 1420.3,81.5 1418.6,95.5 1421.3,113.5 1431.2,145.5 1431.9,155.5 1430.2,163.5 1427.8,167.5 1424.0,170.8 1418.0,173.4 1412.0,174.7 1396.0,175.0 1372.0,170.2 1366.0,170.8 1361.5,173.5 1359.5,177.5 1360.0,181.0 1370.0,194.3 1371.5,199.5 1371.7,205.5 1370.4,211.5 1367.3,217.5 1356.0,228.3 1352.4,233.5 1351.5,237.5 1352.0,241.5 1355.1,247.5 1359.4,251.5 1366.0,255.0 1382.0,258.6 1406.0,258.8 1432.9,255.5 1447.3,251.5 1458.0,246.2 1465.6,239.5 1474.0,225.7 1477.5,221.5 1482.0,219.2 1488.0,219.7 1494.0,223.7 1507.3,243.5 1512.7,249.5 1519.9,255.5 1539.8,267.5 1592.0,293.4 1604.0,300.1 1616.0,309.4 1637.1,329.5 1648.0,337.5 1664.0,345.3 1699.3,355.5 1710.0,360.6 1713.3,363.5 1715.7,367.5 1718.9,385.5 1721.7,393.5 1725.6,399.5 1731.7,405.5 1742.0,411.7 1754.0,415.1 1766.0,414.7 1776.0,410.7 1776.0,561.5 1072.0,561.5 1072.0,69.5 1074.0,69.5Z"/><path fill-rule="evenodd" fill="#f5c080" d="M1078.0,151.5 1092.0,150.2 1110.0,150.1 1180.0,154.2 1238.0,150.3 1250.0,151.2 1260.0,153.5 1268.0,157.0 1274.0,161.2 1279.7,167.5 1283.1,173.5 1287.3,187.5 1293.5,223.5 1296.8,233.5 1300.8,241.5 1306.5,249.5 1314.0,257.4 1321.6,263.5 1328.0,267.3 1340.0,271.6 1356.0,274.1 1440.0,275.9 1460.0,277.7 1476.0,280.4 1494.0,285.2 1514.0,292.3 1562.0,311.9 1580.0,320.9 1590.0,327.7 1600.5,337.5 1613.4,353.5 1630.0,378.4 1634.9,383.5 1640.4,387.5 1719.4,427.5 1744.0,439.0 1754.0,442.4 1762.0,443.8 1770.0,443.5 1776.0,441.7 1776.0,561.5 1072.0,561.5 1072.0,152.4 1078.0,151.5ZM1173.2,251.5 1164.0,255.0 1157.2,259.5 1151.7,265.5 1148.7,271.5 1147.7,279.5 1149.0,285.5 1153.1,291.5 1158.0,294.4 1164.0,295.6 1170.0,295.3 1178.0,293.4 1186.0,290.1 1193.7,285.5 1200.0,280.4 1204.7,275.5 1208.4,269.5 1209.3,265.5 1208.6,261.5 1206.0,257.5 1200.5,253.5 1194.0,251.0 1188.0,250.1 1180.0,250.2 1173.2,251.5ZM1736.8,517.5 1725.0,521.5 1715.7,527.5 1711.0,533.5 1710.8,539.5 1716.0,545.5 1729.5,551.5 1742.0,553.4 1748.0,553.0 1752.8,551.5 1757.8,547.5 1760.5,541.5 1760.7,533.5 1758.9,527.5 1754.8,521.5 1750.0,518.3 1744.0,517.0 1736.8,517.5Z"/><path fill-rule="evenodd" fill="#eea650" d="M1202.0,183.3 1220.0,182.0 1234.0,182.8 1246.0,186.1 1254.0,191.3 1260.5,199.5 1264.8,209.5 1266.9,219.5 1268.6,239.5 1272.3,249.5 1277.1,255.5 1288.5,265.5 1304.0,277.5 1314.0,283.2 1322.0,285.7 1332.0,286.9 1378.0,286.0 1408.0,287.0 1428.0,289.0 1446.0,292.2 1462.0,296.5 1475.8,301.5 1514.0,318.6 1548.0,331.4 1560.0,337.7 1567.9,343.5 1574.0,350.1 1578.4,357.5 1580.5,365.5 1579.1,377.5 1566.6,403.5 1565.1,409.5 1565.4,413.5 1568.0,419.5 1572.0,424.4 1578.0,429.8 1586.0,434.9 1594.0,437.7 1602.0,437.8 1638.0,425.7 1650.0,424.1 1660.0,424.4 1674.0,427.2 1690.0,432.7 1706.0,440.5 1720.0,449.5 1728.9,457.5 1733.7,465.5 1734.0,473.5 1729.8,481.5 1721.7,489.5 1710.4,497.5 1661.7,525.5 1654.5,531.5 1652.2,535.5 1652.8,539.5 1654.2,541.5 1662.9,547.5 1676.5,553.5 1700.8,561.5 1072.0,561.5 1072.0,302.2 1088.0,296.6 1092.0,296.3 1094.4,297.5 1098.0,303.2 1102.0,314.4 1106.5,329.5 1108.4,339.5 1108.8,351.5 1106.5,363.5 1091.1,393.5 1086.2,407.5 1085.4,417.5 1088.0,425.2 1092.0,429.1 1096.0,431.1 1108.0,434.2 1142.0,437.8 1156.0,437.1 1160.0,434.8 1164.0,428.9 1174.7,401.5 1176.9,393.5 1177.2,375.5 1172.5,341.5 1172.9,333.5 1175.0,325.5 1179.6,317.5 1185.0,311.5 1219.4,281.5 1229.7,271.5 1235.2,263.5 1236.5,257.5 1234.7,251.5 1230.0,246.4 1222.4,241.5 1212.0,237.0 1200.0,233.4 1190.0,231.8 1180.0,231.3 1168.0,232.3 1152.0,236.3 1138.0,243.4 1125.9,253.5 1106.0,275.0 1102.0,277.9 1098.0,278.3 1094.0,273.8 1081.6,251.5 1072.0,239.1 1072.0,187.1 1144.0,187.4 1174.0,185.9 1202.0,183.3ZM1211.1,391.5 1204.0,393.7 1197.5,397.5 1194.0,401.5 1192.2,405.5 1191.8,411.5 1193.7,417.5 1196.9,421.5 1202.0,424.7 1208.0,426.5 1218.0,427.7 1230.0,427.4 1240.0,426.1 1253.0,421.5 1257.9,417.5 1260.4,413.5 1261.1,407.5 1258.8,401.5 1254.0,396.6 1248.4,393.5 1240.0,391.1 1230.0,390.0 1211.1,391.5Z"/><path fill-rule="evenodd" fill="#dc8526" d="M1252.0,277.2 1262.0,276.7 1274.0,279.9 1286.0,286.8 1306.0,301.9 1316.0,305.3 1326.0,304.6 1358.0,297.5 1376.0,296.0 1404.0,297.5 1432.0,303.2 1448.0,308.9 1460.9,315.5 1472.3,323.5 1490.0,338.4 1498.0,343.5 1508.0,348.0 1528.0,354.4 1536.6,359.5 1540.3,365.5 1540.2,369.5 1538.6,373.5 1533.4,379.5 1518.0,391.1 1511.8,397.5 1507.6,405.5 1506.5,411.5 1506.8,415.5 1509.0,421.5 1514.3,427.5 1520.7,431.5 1542.0,441.5 1556.0,451.4 1563.8,459.5 1569.8,469.5 1572.5,479.5 1572.4,491.5 1569.8,503.5 1562.3,527.5 1560.9,537.5 1561.5,543.5 1563.3,549.5 1570.5,561.5 1214.9,561.5 1234.5,549.5 1237.6,545.5 1237.6,543.5 1235.1,539.5 1220.0,527.5 1214.0,521.5 1209.6,515.5 1205.6,507.5 1202.0,495.5 1200.4,483.5 1200.8,469.5 1203.2,459.5 1206.4,453.5 1209.8,449.5 1218.0,443.9 1228.0,440.0 1254.0,432.9 1265.2,427.5 1269.9,423.5 1272.9,419.5 1275.3,413.5 1275.8,407.5 1274.6,401.5 1271.7,395.5 1268.0,391.1 1262.0,386.6 1250.0,381.6 1219.3,373.5 1212.0,370.0 1206.3,365.5 1200.5,357.5 1197.1,349.5 1195.1,339.5 1195.2,331.5 1196.9,323.5 1199.6,317.5 1203.7,311.5 1211.0,303.5 1222.0,294.0 1234.0,285.5 1244.0,279.9 1252.0,277.2ZM1072.3,327.5 1077.5,333.5 1081.5,341.5 1083.8,349.5 1084.5,357.5 1082.4,371.5 1072.0,403.4 1072.3,327.5ZM1652.0,445.3 1660.0,444.5 1670.0,445.6 1680.0,448.8 1688.7,453.5 1694.0,458.1 1697.4,463.5 1697.8,469.5 1695.3,475.5 1690.0,481.4 1684.0,485.8 1676.0,490.0 1665.8,493.5 1658.0,494.8 1650.0,494.5 1642.0,492.3 1636.0,489.1 1630.1,483.5 1626.9,477.5 1626.0,471.5 1626.9,465.5 1629.9,459.5 1636.0,453.0 1644.0,448.0 1652.0,445.3ZM1100.0,465.3 1106.0,466.2 1110.0,468.6 1113.7,473.5 1114.7,477.5 1114.3,483.5 1111.3,489.5 1106.3,493.5 1102.0,494.6 1098.0,493.9 1094.0,490.8 1091.3,485.5 1090.3,479.5 1090.9,473.5 1092.6,469.5 1096.0,466.4 1100.0,465.3Z"/><path fill-rule="evenodd" fill="#c06a22" d="M1246.0,293.2 1252.0,291.9 1260.0,292.1 1268.0,294.4 1274.0,297.5 1285.8,307.5 1306.0,332.6 1310.0,335.9 1316.0,338.2 1322.0,337.5 1326.0,335.2 1341.5,319.5 1350.0,313.7 1360.4,309.5 1372.0,307.3 1392.0,307.6 1411.8,311.5 1428.0,317.9 1442.2,327.5 1452.6,339.5 1459.6,353.5 1464.9,373.5 1466.7,393.5 1465.4,415.5 1460.9,437.5 1452.8,457.5 1443.1,471.5 1434.0,479.5 1422.0,485.9 1408.0,489.8 1392.0,491.5 1382.0,491.1 1372.0,489.3 1362.0,485.6 1340.0,474.6 1332.0,472.8 1326.0,472.9 1320.0,474.6 1314.0,478.3 1308.0,484.4 1291.4,505.5 1284.0,511.5 1274.0,516.3 1262.0,518.8 1250.0,518.3 1238.0,514.3 1228.1,507.5 1220.4,497.5 1216.1,485.5 1215.6,471.5 1218.9,461.5 1224.0,455.3 1233.0,449.5 1243.7,445.5 1268.0,438.7 1278.0,433.6 1282.5,429.5 1286.0,424.2 1288.4,417.5 1289.4,411.5 1289.1,401.5 1287.2,393.5 1284.0,386.8 1279.2,381.5 1268.0,375.4 1240.0,367.7 1229.7,363.5 1219.1,355.5 1212.9,345.5 1210.8,337.5 1210.7,329.5 1212.8,321.5 1215.9,315.5 1222.0,308.2 1229.9,301.5 1238.0,296.5 1246.0,293.2Z"/><path fill-rule="evenodd" fill="#9a5025" d="M1246.0,307.3 1254.0,306.5 1262.0,308.6 1269.2,313.5 1275.6,321.5 1279.9,331.5 1281.5,341.5 1280.4,349.5 1278.0,353.5 1275.6,355.5 1271.0,357.5 1264.0,358.6 1250.0,357.2 1238.0,352.0 1232.7,347.5 1229.7,343.5 1226.4,333.5 1226.7,327.5 1228.7,321.5 1232.0,316.5 1236.0,312.6 1246.0,307.3ZM1384.0,325.4 1395.7,327.5 1406.0,333.0 1414.5,341.5 1420.0,351.2 1427.3,377.5 1429.2,391.5 1427.6,405.5 1426.0,409.7 1422.0,414.4 1420.0,414.8 1418.0,413.7 1416.0,410.4 1410.6,379.5 1408.9,373.5 1405.8,367.5 1398.0,359.5 1377.4,345.5 1373.3,341.5 1371.0,337.5 1370.6,333.5 1372.5,329.5 1378.0,326.3 1384.0,325.4ZM1318.0,393.1 1322.0,393.2 1326.0,394.7 1332.0,399.2 1336.3,405.5 1338.7,413.5 1337.9,421.5 1334.1,427.5 1328.0,431.4 1322.0,432.9 1316.0,432.5 1312.0,430.3 1309.3,425.5 1308.2,419.5 1308.2,409.5 1310.0,400.9 1313.2,395.5 1318.0,393.1ZM1254.0,453.2 1270.0,451.5 1282.0,452.9 1286.0,454.9 1288.0,457.0 1289.7,463.5 1289.0,469.5 1286.5,477.5 1279.3,489.5 1274.0,494.6 1268.0,498.4 1262.0,500.6 1256.0,501.5 1246.0,499.7 1238.0,494.6 1232.7,487.5 1229.9,477.5 1230.9,469.5 1236.0,461.5 1244.0,456.3 1254.0,453.2Z"/><rect x="1177.3" y="270.0" width="32.7" height="31.4" fill="#f5c080"/><rect x="1083.0" y="349.2" width="35.0" height="22.1" fill="#dc8526"/><rect x="1138.9" y="313.1" width="21.0" height="38.4" fill="#eea650"/><rect x="1184.3" y="308.4" width="43.1" height="33.8" fill="#dc8526"/><rect x="1192.5" y="341.0" width="34.9" height="22.2" fill="#c06a22"/><rect x="1211.0" y="281.6" width="39.7" height="26.8" fill="#dc8526"/><rect x="1145.9" y="363.2" width="81.5" height="56.8" fill="#eea650"/><rect x="1120.3" y="370.2" width="25.6" height="23.3" fill="#dc8526"/><rect x="1187.8" y="395.8" width="37.3" height="24.2" fill="#dc8526"/><rect x="1225.1" y="398.1" width="37.3" height="21.9" fill="#eea650"/><rect x="1262.4" y="386.5" width="45.6" height="33.5" fill="#c06a22"/><rect x="1234.4" y="310.8" width="16.3" height="52.4" fill="#c06a22"/><rect x="1253.0" y="286.3" width="32.6" height="18.7" fill="#9a5025"/><rect x="1250.7" y="305.0" width="23.3" height="46.5" fill="#9a5025"/><rect x="1274.0" y="344.5" width="17.5" height="18.7" fill="#eea650"/><rect x="1268.2" y="369.0" width="34.9" height="17.5" fill="#9a5025"/><rect x="1162.4" y="429.1" width="33.9" height="28.2" fill="#eea650"/><rect x="1196.3" y="431.0" width="71.4" height="30.1" fill="#9a5025"/><rect x="1215.0" y="461.1" width="52.7" height="13.1" fill="#eea650"/><rect x="1305.2" y="427.2" width="48.8" height="30.1" fill="#dc8526"/><rect x="1354.0" y="427.2" width="41.4" height="30.1" fill="#c06a22"/><rect x="1395.4" y="423.5" width="28.6" height="52.6" fill="#c06a22"/><rect x="1440.0" y="240.0" width="46.6" height="37.3" fill="#f9dfb8"/><rect x="1440.0" y="277.3" width="96.9" height="33.5" fill="#f5c080"/><rect x="1536.9" y="277.3" width="44.7" height="67.1" fill="#fbf1e6"/><rect x="1440.0" y="310.8" width="96.9" height="33.6" fill="#dc8526"/><rect x="1440.0" y="344.4" width="55.9" height="24.2" fill="#c06a22"/><rect x="1458.6" y="368.6" width="37.3" height="20.5" fill="#dc8526"/><rect x="1495.9" y="368.6" width="37.3" height="35.4" fill="#c06a22"/><rect x="1440.0" y="370.4" width="16.8" height="83.9" fill="#9a5025"/><rect x="1581.6" y="344.4" width="82.0" height="48.4" fill="#f9dfb8"/><rect x="1538.8" y="366.7" width="35.4" height="63.3" fill="#dc8526"/><rect x="1574.2" y="366.7" width="41.0" height="63.3" fill="#eea650"/><rect x="1615.2" y="392.8" width="65.2" height="37.2" fill="#f5c080"/><rect x="1680.4" y="404.0" width="29.8" height="31.7" fill="#f9dfb8"/><rect x="1455.0" y="430.0" width="201.0" height="30.0" fill="#dc8526"/><rect x="1656.2" y="432.0" width="63.3" height="28.0" fill="#eea650"/><rect x="1719.5" y="454.3" width="26.1" height="25.7" fill="#f5c080"/></g><path fill="#fff" d="M1267.7,425.4 L1316.5,425.4 L1316.5,461.1 L1267.7,461.1Z"/><path fill="#eceff8" d="M1427.2,74.2 L1433.5,91.0 L1441.9,101.4 L1469.2,103.5 L1488.0,91.0 L1496.4,80.5 L1492.2,74.2Z"/><path fill="#eceff8" d="M1496.4,74.2 L1500.6,91.0 L1483.8,107.7 L1483.8,120.3 L1467.1,130.8 L1500.6,133.9 L1538.3,132.9 L1555.1,124.5 L1559.3,109.8 L1578.2,91.0 L1607.5,74.2Z"/><path fill="#eceff8" d="M1414.7,126.6 L1460.8,137.1 L1473.4,145.5 L1504.8,145.5 L1538.3,149.6 L1536.2,160.1 L1500.6,164.3 L1448.2,160.1 L1441.9,139.2Z"/><path fill="#eceff8" d="M1600.0,74.2 L1771.0,74.2 L1771.0,325.7 L1756.3,311.0 L1743.8,290.1 L1746.0,258.6 L1756.3,237.7 L1735.4,235.6 L1735.4,220.9 L1756.3,216.7 L1735.4,212.5 L1727.0,195.8 L1718.6,162.2 L1703.9,147.6 L1683.0,139.2 L1630.6,135.0 L1609.6,124.5 L1626.4,118.2 L1607.5,109.8 L1594.9,101.4 L1590.0,90.0Z"/><path class="state" d="M1199.5,499.6 L1205.7,500.0 L1213.4,505.8 L1221.1,505.3 L1233.5,502.7 L1238.1,502.0 L1254.2,502.0"/><path class="state" d="M1253.3,472.6 L1253.3,497.8 L1254.2,502.0 L1255.9,503.9 L1257.4,506.8 L1255.1,512.5 L1252.0,518.2 L1253.6,523.0 L1253.3,539.8"/><path class="state" d="M1198.0,539.8 L1299.5,539.8"/><path class="state" d="M1230.4,539.8 L1230.4,567.2 L1271.9,602.7"/><path class="state" d="M1276.3,539.8 L1276.3,592.2 L1271.0,593.5 L1272.3,601.9 L1271.9,604.5 L1275.7,608.8 L1273.4,611.4 L1272.6,619.8 L1271.2,622.5"/><path class="state" d="M1260.9,472.6 L1260.9,482.5 L1263.6,487.9 L1272.1,495.7 L1273.2,506.2 L1278.3,505.8 L1281.0,511.0 L1286.0,517.3 L1289.8,515.9 L1296.0,515.9 L1299.5,516.3"/><path class="state" d="M1299.5,511.6 L1299.5,549.0 L1314.9,549.0 L1369.0,549.0"/><path class="state" d="M1299.5,511.6 L1353.5,511.6"/><path class="state" d="M1353.5,472.6 L1353.5,549.0"/><path class="state" d="M1314.9,549.0 L1314.9,634.4"/><path class="state" d="M1369.0,549.0 L1369.0,589.5"/><path class="state" d="M1369.0,558.1 L1421.1,558.1"/><path class="state" d="M1426.3,585.1 L1426.3,566.3 L1424.2,561.8 L1421.1,558.1"/><path class="state" d="M1353.5,502.6 L1411.4,502.6"/><path class="state" d="M1353.5,530.5 L1396.4,530.5 L1404.9,531.9 L1411.0,535.1 L1412.2,535.2"/><path class="state" d="M1406.2,472.6 L1408.7,486.4 L1411.0,499.1 L1411.4,502.6 L1409.1,505.8 L1412.2,508.7 L1412.2,525.8"/><path class="state" d="M1412.2,525.8 L1452.6,525.8"/><path class="state" d="M1412.2,535.2 L1414.9,539.8 L1416.8,547.2 L1417.5,552.9"/><path class="state" d="M1417.5,552.9 L1448.6,552.6 L1451.2,554.5"/><path class="state" d="M1452.6,525.8 L1452.7,530.5 L1457.0,535.1 L1460.5,541.6 L1453.5,548.1 L1451.2,554.5 L1451.2,559.1 L1456.6,566.3 L1460.5,569.9 L1460.5,574.4 L1465.9,582.4 L1468.7,585.1 L1468.2,588.7 L1464.3,594.0 L1461.2,601.9 L1457.4,608.0 L1453.5,615.8 L1453.0,620.1 L1453.9,625.2 L1450.4,632.1 L1449.3,637.2"/><path class="state" d="M1468.7,585.1 L1473.6,584.2 L1476.7,580.7 L1480.5,577.1 L1486.7,576.6 L1489.8,575.3 L1494.4,573.5 L1497.5,569.9 L1502.1,566.3 L1506.0,567.7 L1510.6,570.4 L1519.1,572.6 L1522.2,570.8 L1525.3,566.3 L1529.9,563.6 L1533.8,560.0 L1535.2,552.3"/><path class="state" d="M1481.1,542.0 L1481.1,564.0 L1480.5,569.9 L1478.2,574.4 L1477.1,578.0 L1476.7,580.7"/><path class="state" d="M1502.0,542.6 L1502.0,566.3"/><path class="state" d="M1481.3,542.6 L1512.6,542.3"/><path class="state" d="M1457.1,535.1 L1479.0,535.1"/><path class="state" d="M1535.2,539.8 L1535.2,560.7 L1571.7,560.7"/><path class="state" d="M1541.1,539.8 L1575.1,539.8 L1577.0,541.6 L1580.1,545.8 L1586.3,549.0"/><path class="state" d="M1575.1,539.8 L1577.0,541.6 L1577.8,544.9 L1580.1,545.8 L1577.0,550.8 L1576.3,554.5 L1579.3,556.3 L1577.0,559.1 L1573.9,561.8 L1573.5,564.5"/><path class="state" d="M1445.8,495.2 L1444.2,501.0 L1440.8,505.8 L1440.4,514.0 L1446.6,517.3 L1452.0,522.0 L1452.6,525.8"/><path class="state" d="M1458.9,496.5 L1469.7,502.0 L1476.7,503.9 L1480.5,510.6"/><path class="state" d="M1590.5,511.5 L1590.5,524.8 L1591.3,532.8 L1589.4,539.3 L1588.2,549.0"/><path class="state" d="M1591.3,532.8 L1606.4,533.3 L1609.5,531.9"/><path class="state" d="M1589.4,539.3 L1602.5,539.8 L1605.6,539.8 L1607.9,544.4"/><path class="state" d="M1602.5,539.8 L1602.5,546.2"/><path class="state" d="M1596.7,533.0 L1597.9,525.8 L1601.0,518.2 L1604.8,511.5"/><path class="state" d="M1608.1,508.7 L1608.8,523.0 L1611.0,529.5"/><path class="intl" d="M1204.9,472.6 L1422.2,472.6 L1422.2,468.8 L1424.9,469.6 L1426.5,475.6 L1432.7,477.6 L1441.9,478.0 L1451.2,482.0 L1462.0,481.5 L1465.1,482.5"/><path class="intl" d="M1567.8,519.2 L1575.5,513.0 L1580.1,511.6 L1604.8,511.5 L1607.9,508.7 L1614.1,502.9 L1616.4,495.2 L1622.6,487.9 L1629.5,488.9 L1633.4,491.6 L1633.4,504.9 L1636.5,505.8 L1639.6,511.6"/><path class="coastb" d="M1402.2,697.9 L1403.5,687.3 L1405.6,679.8 L1404.7,672.2 L1404.3,668.0 L1406.8,663.0 L1411.0,658.8 L1416.8,656.3 L1421.9,653.8 L1424.4,649.6 L1428.6,648.8 L1435.2,648.0 L1442.8,648.8 L1447.9,648.8 L1452.0,650.4 L1453.7,653.0 L1460.4,653.0 L1465.4,652.1 L1468.7,653.0 L1466.3,649.6 L1465.4,646.3 L1462.1,644.6 L1460.4,643.3 L1463.7,642.1 L1470.5,642.1 L1478.8,641.7 L1488.9,642.1 L1493.9,644.6 L1497.0,646.9 L1500.6,648.7 L1507.6,645.6 L1512.1,646.4 L1516.6,652.2 L1518.4,657.6 L1518.4,663.8 L1520.1,669.2 L1522.8,673.6 L1525.5,678.0 L1529.1,683.4 L1531.7,686.5 L1535.3,685.2 L1537.9,680.7 L1538.9,670.9 L1537.1,664.7 L1533.5,655.8 L1529.9,646.9 L1528.2,639.7 L1528.6,635.3 L1530.9,629.1 L1535.3,624.6 L1541.5,620.1 L1546.0,616.6 L1549.5,613.0 L1555.8,610.3 L1562.0,605.9 L1566.5,602.3 L1570.0,599.6 L1573.6,597.8 L1572.7,592.5 L1570.7,588.5 L1570.7,584.5 L1572.4,579.8 L1574.7,573.6 L1576.8,567.4 L1578.8,564.3 L1581.0,561.2 L1583.0,557.1 L1584.0,552.9 L1587.2,549.8 L1592.3,547.7 L1597.5,546.7 L1603.7,544.6 L1609.9,543.6 L1615.1,541.5 L1616.1,544.6 L1613.7,542.5 L1609.9,536.3 L1608.9,532.2 L1611.0,528.1 L1615.1,523.9 L1620.3,521.8 L1624.5,519.8 L1628.6,518.2 L1634.8,514.6 L1639.0,511.4 L1644.2,509.9 L1649.3,508.9 L1654.5,506.3 L1659.7,507.8"/><path class="coastb" d="M1569.7,585.8 L1567.7,580.5 L1566.7,575.2 L1567.7,570.5 L1569.0,566.5 L1570.4,563.8"/><path class="coastb" d="M1660.4,507.1 L1655.8,509.8 L1651.1,512.4 L1647.4,517.6 L1646.7,522.8 L1650.4,525.5 L1655.5,523.9 L1659.7,519.8 L1664.8,516.6 L1668.4,515.1"/><path class="coastb" d="M1607.7,493.8 L1615.1,487.6 L1623.4,480.3 L1633.7,474.1 L1644.2,470.5 L1649.3,470.5 L1660.7,471.7 L1659.8,478.3 L1653.4,481.9 L1646.2,482.9 L1645.1,484.4 L1652.4,485.6 L1655.5,490.8 L1658.3,494.9 L1659.8,500.0 L1663.8,503.1"/><path class="coastb" d="M1607.7,493.1 L1618.3,482.5 L1628.6,474.1 L1639.0,466.9 L1644.2,461.7"/><path class="coastb" d="M1637.5,468.3 L1642.2,461.8 L1651.4,459.9 L1664.3,459.1 L1668.4,459.1"/><path class="coastb" d="M1425.8,352.3 L1425.8,355.1 L1425.4,364.7 L1428.0,369.9 L1433.1,369.5 L1438.2,370.6 L1441.2,377.9 L1443.5,384.5 L1444.9,388.9 L1449.3,387.5 L1455.2,386.4 L1461.8,389.7 L1471.6,392.6 L1476.7,394.7 L1485.0,401.3 L1494.2,404.0 L1501.6,407.8 L1512.7,408.2 L1521.0,410.0 L1521.9,418.4 L1521.5,432.2 L1524.7,435.9 L1531.2,441.4 L1536.7,448.9 L1540.4,450.7 L1544.1,447.1 L1549.7,441.4 L1550.6,436.8 L1548.7,427.6 L1545.9,418.4 L1544.1,414.7 L1551.5,411.0 L1558.9,407.3 L1563.6,401.7 L1564.5,394.3 L1562.6,386.9 L1558.9,375.9 L1553.3,373.1 L1549.7,368.5 L1552.4,363.8 L1558.0,361.0 L1558.9,352.3"/><path class="coastb" d="M1619.9,352.3 L1619.9,355.5 L1620.9,362.9 L1626.4,369.4 L1632.9,374.9 L1640.3,372.1 L1647.7,366.6 L1651.4,362.0 L1652.3,356.4 L1656.9,354.6 L1663.4,357.3 L1666.4,359.0"/><path class="coastb" d="M1199.4,466.3 L1205.6,465.3 L1206.6,470.3 L1208.6,475.1 L1210.5,479.1 L1211.5,483.1 L1210.5,488.0 L1208.6,490.9 L1204.0,489.8 L1200.7,489.8"/><path class="coastb" d="M1199.4,499.8 L1203.6,500.8"/><path class="coastb" d="M1525.5,691.5 L1529.1,690.1 L1531.7,688.6"/><path class="coastb" d="M1446.0,495.5 L1452.3,491.3 L1459.3,485.6 L1467.8,479.3 L1476.2,473.0 L1483.3,474.7 L1489.6,475.5 L1493.1,482.1 L1500.2,483.2 L1502.2,488.5 L1503.0,496.9 L1498.0,495.5 L1491.7,496.2 L1484.0,498.3 L1480.5,495.5 L1475.5,492.0 L1477.6,488.8 L1473.4,491.3 L1468.5,492.7 L1462.9,495.5 L1457.9,496.2 L1455.1,493.4 L1450.9,495.5Z"/><path class="coastb" d="M1477.6,515.2 L1481.9,506.8 L1487.5,504.0 L1494.5,502.5 L1499.4,503.2 L1497.4,505.4 L1493.8,508.8 L1492.4,512.4 L1490.3,518.0 L1490.3,528.5 L1490.6,535.6 L1487.5,541.9 L1483.3,542.6 L1479.7,539.8 L1478.3,532.1 L1478.7,523.6 L1480.5,518.0Z"/><path class="coastb" d="M1500.2,503.2 L1507.2,500.4 L1515.6,500.8 L1522.7,501.1 L1531.8,502.5 L1536.7,506.8 L1540.9,513.1 L1538.1,515.9 L1533.2,513.8 L1529.0,511.0 L1527.6,517.3 L1526.2,523.6 L1524.1,528.5 L1520.5,529.3 L1517.7,525.1 L1512.8,521.5 L1509.3,523.6 L1510.0,518.0 L1512.8,512.4 L1511.4,507.4 L1507.2,505.4 L1501.6,504.6Z"/><path class="coastb" d="M1513.5,541.9 L1517.0,539.1 L1524.8,536.3 L1531.8,534.2 L1540.3,531.4 L1545.9,530.7 L1548.0,533.5 L1542.3,536.3 L1536.7,539.1 L1529.7,541.9 L1522.7,544.0 L1516.3,544.7Z"/><path class="coastb" d="M1542.3,526.5 L1545.1,522.9 L1554.3,521.5 L1562.0,520.1 L1568.4,518.0 L1569.1,525.1 L1561.4,527.1 L1552.2,527.1 L1543.7,528.5Z"/><path class="coastb" d="M1391.7,424.0 L1396.9,423.4 L1402.3,424.6 L1404.9,429.0 L1407.6,434.6 L1410.2,440.4 L1413.0,447.9 L1414.3,455.8 L1410.3,459.8 L1408.9,453.7 L1407.6,447.9 L1403.5,443.7 L1399.7,439.8 L1395.5,435.0 L1394.4,431.9Z"/><path class="coastb" d="M1375.8,430.6 L1380.9,431.0 L1386.4,433.2 L1384.2,437.7 L1385.1,442.5 L1388.9,444.4 L1391.7,446.5 L1393.5,450.4 L1395.7,454.5 L1399.7,459.8 L1395.7,461.1 L1392.2,456.4 L1389.1,450.5 L1383.8,445.2 L1380.9,440.4 L1379.8,435.9Z"/><path class="coastb" d="M1369.1,376.5 L1372.1,381.6 L1369.9,384.5 L1366.9,391.9 L1362.5,395.6 L1364.0,389.7 L1364.7,383.1Z"/><path class="coastb" d="M1299.1,369.7 L1305.0,366.8 L1308.9,360.8 L1313.9,358.9 L1323.7,360.8 L1327.7,363.9 L1321.7,365.8 L1308.9,366.8 L1305.0,370.7Z"/><path class="coastb" d="M1524.7,433.0 L1528.3,430.4 L1533.0,432.4 L1530.3,435.9 L1526.3,435.4Z"/><path class="coastb" d="M1074.0,234.6 L1086.5,236.4 L1097.0,241.6 L1105.7,245.1 L1109.2,239.9 L1121.4,236.4 L1133.7,232.9 L1145.9,229.4 L1152.9,226.8 L1159.9,230.3 L1168.6,222.4 L1175.6,225.9 L1182.6,231.1 L1187.8,236.4 L1194.8,231.1 L1198.3,236.4 L1205.3,232.0 L1215.8,232.9 L1229.7,236.4 L1240.2,239.0 L1256.0,241.6 L1268.2,246.9 L1275.2,252.1 L1269.9,257.4 L1285.6,259.1 L1303.1,255.6 L1318.8,257.4 L1322.3,260.8 L1324.1,253.9 L1338.0,246.9 L1343.3,250.4 L1355.5,253.9 L1369.5,259.1 L1383.5,260.8 L1395.7,257.4 L1397.4,250.4 L1390.5,243.4 L1399.2,234.6 L1408.0,239.9 L1414.9,252.1 L1418.4,259.1 L1424.0,257.4 L1430.0,262.0 L1443.9,270.0 L1457.0,275.0 L1470.0,285.0 L1478.0,297.0 L1476.0,305.0"/><path class="coastb" d="M1557.4,359.3 L1559.3,344.4 L1553.7,329.5 L1563.0,325.7 L1585.4,326.7 L1600.3,333.2 L1611.5,342.5 L1618.9,344.4 L1622.6,361.1 L1633.8,374.2 L1645.0,368.6 L1652.5,359.3 L1657.1,351.8 L1663.6,361.1 L1673.0,374.2 L1680.4,389.1 L1682.3,404.0 L1693.4,405.9 L1704.6,415.2 L1713.9,420.8 L1723.3,432.0 L1725.1,441.3 L1715.8,446.9 L1700.9,454.3 L1691.6,458.0 L1678.5,458.0 L1663.6,459.9 L1645.0,463.6 L1633.8,467.4 L1622.6,474.8 L1618.9,480.0"/><path class="coastb" d="M1551.8,294.0 L1555.5,288.5 L1570.5,286.6 L1585.4,277.3 L1581.6,268.0 L1596.5,264.2 L1592.8,253.0 L1581.6,243.7 L1574.2,240.0"/><path class="coastb" d="M1551.8,299.6 L1570.5,301.5 L1589.1,305.2 L1604.0,318.3 L1626.4,325.7 L1645.0,331.3 L1637.5,322.0 L1626.4,310.8"/><path class="coastb" d="M1632.0,240.0 L1633.8,251.2 L1654.3,258.6 L1673.0,268.0 L1682.3,275.4 L1663.6,292.2 L1650.6,286.6 L1637.5,279.1 L1641.3,292.2 L1654.3,303.4 L1658.0,318.3 L1645.0,320.1"/><path class="coastb" d="M1463.0,192.4 L1476.4,177.2 L1495.5,173.3 L1514.6,173.3 L1529.9,177.2 L1531.8,196.3 L1537.5,188.6 L1562.4,190.5 L1579.6,192.4 L1585.3,203.9 L1610.1,211.5 L1629.2,223.0 L1633.0,236.4 L1638.8,242.1 L1631.1,249.7 L1632.0,240.0"/><path class="coastb" d="M1463.0,192.4 L1467.0,206.0 L1481.0,217.0 L1495.0,226.0 L1512.0,228.0 L1530.0,230.0 L1545.0,228.0 L1555.0,236.0 L1568.0,244.0 L1575.0,252.0 L1570.0,262.0 L1560.0,266.0 L1552.0,275.0 L1552.0,288.0"/><path class="coastb" d="M1419.1,171.4 L1438.2,169.5 L1459.2,173.3 L1447.8,184.8 L1432.5,196.3 L1430.6,207.7 L1443.9,223.0 L1447.8,230.6 L1457.3,238.3 L1466.9,240.2 L1476.4,249.7 L1482.1,263.1 L1489.8,259.3 L1495.5,245.9 L1497.4,232.5 L1507.0,232.5 L1518.4,234.4 L1526.1,240.2 L1526.1,249.7 L1522.3,265.0 L1514.6,274.6 L1495.5,276.5 L1487.9,284.1 L1480.2,303.2 L1470.0,308.0 L1463.0,310.9"/><path class="coastb" d="M1440.0,325.7 L1458.6,310.8 L1477.3,305.2 L1488.5,282.9 L1499.6,286.6 L1518.3,299.6 L1535.0,309.0 L1527.6,312.7 L1514.5,309.0 L1501.5,310.8 L1494.0,316.4 L1486.6,309.0 L1492.2,294.0 L1486.6,277.3 L1490.3,273.5"/><path class="coastb" d="M1476.0,305.0 L1465.0,318.0 L1452.0,325.0 L1440.0,326.0 L1430.0,330.0 L1422.0,338.0 L1416.0,350.0 L1414.0,356.0"/><path class="coastb" d="M1594.8,102.7 L1610.1,110.3 L1625.4,117.9 L1610.1,123.7 L1619.7,131.3 L1642.6,140.9 L1667.4,138.9 L1686.5,140.9 L1705.6,146.6 L1715.2,160.0 L1724.7,179.1 L1726.6,198.2 L1736.2,207.7 L1743.8,205.8 L1759.1,217.3 L1736.2,219.2 L1734.3,230.6 L1743.8,236.4 L1762.9,236.4 L1759.1,251.6 L1743.8,257.4 L1741.9,274.6 L1747.7,293.7 L1759.1,309.0 L1766.8,320.0 L1772.0,330.0"/><path class="coastb" d="M1596.8,98.8 L1610.1,93.1 L1629.2,89.3 L1648.3,85.5 L1656.0,79.7 L1657.9,72.0"/><path class="coastb" d="M1537.5,137.0 L1552.8,129.4 L1552.8,117.9 L1545.2,119.8 L1556.6,110.3 L1571.9,104.6 L1577.7,93.1 L1587.2,83.6 L1600.6,77.8 L1610.1,72.0"/><path class="coastb" d="M1466.9,131.3 L1466.9,123.7 L1480.2,119.8 L1476.4,112.2 L1493.6,108.4 L1480.2,104.6 L1487.9,96.9 L1501.2,93.1 L1499.3,81.6 L1491.7,75.9 L1482.1,72.0"/><path class="coastb" d="M1466.9,133.2 L1476.4,135.1 L1495.5,135.1 L1514.6,133.2 L1533.7,135.1 L1537.5,137.0"/><path class="coastb" d="M1434.4,72.0 L1436.3,85.5 L1434.4,96.9 L1445.8,102.7 L1463.0,104.6 L1476.4,98.8 L1484.0,89.3 L1489.8,79.7 L1484.0,72.0"/><path class="coastb" d="M1074.0,354.0 L1091.0,359.6 L1109.8,370.9 L1113.6,385.9 L1128.6,397.2 L1139.9,401.0 L1147.4,412.2 L1151.2,427.3 L1166.2,449.8 L1185.0,461.1 L1200.0,468.6 L1207.5,479.9 L1203.8,498.7 L1200.0,525.0 L1200.0,560.0"/><path class="coastb" d="M1285.6,221.5 L1259.4,225.9 L1257.7,229.4 L1259.4,236.4 L1271.7,239.9 L1280.4,245.1 L1285.6,246.9 L1303.1,245.1 L1320.6,239.9 L1338.0,236.4 L1355.5,239.9 L1373.0,236.4 L1380.0,229.4 L1373.0,225.9 L1362.5,222.4 L1352.0,215.4 L1346.8,204.9 L1343.3,196.2 L1348.5,184.0 L1346.8,177.0 L1334.6,177.0 L1324.1,187.5 L1303.1,185.7 L1285.6,185.7 L1276.9,182.2 L1268.2,180.5 L1259.4,184.0 L1247.2,191.0 L1238.5,198.0 L1240.2,204.9 L1245.5,211.9 L1250.7,217.2 L1268.2,218.9Z"/><path class="coastb" d="M1185.0,163.0 L1203.2,157.6 L1235.9,160.3 L1250.5,168.5 L1266.8,177.6 L1248.6,184.8 L1235.9,192.1 L1225.0,204.8 L1206.8,212.1 L1194.1,201.2 L1188.7,183.0Z"/><path class="coastb" d="M1199.6,135.8 L1214.1,124.9 L1232.3,119.4 L1250.5,115.8 L1263.2,119.4 L1257.7,128.5 L1243.2,134.0 L1232.3,139.4 L1214.1,143.1 L1201.4,139.4Z"/><path class="coastb" d="M1250.5,134.0 L1266.8,132.2 L1279.5,137.6 L1286.8,150.3 L1301.3,146.7 L1308.6,128.5 L1317.7,135.8 L1337.7,143.1 L1334.0,154.0 L1312.2,154.0 L1290.4,163.0 L1275.9,157.6 L1259.5,154.0 L1250.5,146.7Z"/><path class="coastb" d="M1265.0,107.0 L1278.0,99.4 L1294.0,104.0 L1290.0,113.0 L1270.0,115.8Z"/><path class="coastb" d="M1363.1,175.8 L1374.0,172.1 L1399.5,172.1 L1403.1,186.7 L1399.5,199.4 L1390.4,208.5 L1377.7,201.2 L1366.8,192.1Z"/><path class="coastb" d="M1415.3,125.6 L1438.2,129.4 L1449.7,135.1 L1463.0,142.8 L1486.0,144.7 L1514.6,144.7 L1533.7,146.6 L1539.4,154.2 L1533.7,160.0 L1514.6,161.9 L1495.5,161.9 L1476.4,161.9 L1457.3,160.0 L1445.8,154.2 L1443.9,138.9 L1428.7,135.1 L1415.3,131.3Z"/><path class="coastb" d="M1407.6,113.0 L1425.0,112.2 L1443.9,114.0 L1430.0,116.5 L1410.0,116.0Z"/><path class="coastb" d="M1337.7,86.7 L1357.7,88.5 L1385.0,94.0 L1388.6,106.7 L1410.4,103.1 L1419.5,101.3 L1410.0,93.0 L1395.0,84.0 L1370.0,80.0 L1345.0,80.0Z"/><path class="coastb" d="M1191.3,280.1 L1208.8,274.8 L1229.7,269.6 L1238.5,271.3 L1229.7,274.8 L1247.2,276.6 L1243.7,281.8 L1233.2,283.6 L1238.5,288.8 L1229.7,292.3 L1226.2,295.8 L1215.8,295.8 L1208.8,292.3 L1207.0,287.1 L1198.3,281.8Z"/><path class="coastb" d="M1150.0,425.0 L1160.0,440.0 L1175.0,452.0 L1190.0,462.0 L1198.0,468.0 L1193.0,470.0 L1180.0,463.0 L1165.0,455.0 L1152.0,443.0 L1146.0,430.0Z"/><path class="coastb" d="M1129.0,418.0 L1137.0,420.0 L1143.6,432.0 L1141.0,438.5 L1134.0,432.0Z"/><path class="coastb" d="M1488.0,340.0 L1500.0,334.0 L1516.0,336.0 L1524.0,344.0 L1514.0,350.0 L1498.0,350.0Z"/><path class="coastb" d="M1698.2,486.4 L1706.0,477.6 L1701.3,476.6 L1709.8,463.6 L1716.0,452.4 L1726.8,446.3 L1728.3,459.5 L1739.9,466.6 L1747.6,476.6 L1743.0,487.4 L1750.0,487.4 L1750.0,495.2 L1743.0,496.2 L1738.4,489.4 L1729.1,493.3 L1724.5,486.4 L1712.9,486.4Z"/><path class="coastb" d="M1253.6,341.0 L1265.1,343.4 L1276.7,337.5 L1284.4,331.6 L1296.0,328.0 L1311.5,322.0 L1315.3,324.4 L1303.7,331.6 L1292.2,335.1 L1280.6,337.5 L1272.9,333.9 L1265.1,328.0 L1257.4,331.6 L1253.6,337.5Z"/><line x1="1230.4" y1="73.5" x2="1230.4" y2="557.5" class="g"/>
<line x1="1384.8" y1="73.5" x2="1384.8" y2="557.5" class="g"/>
<line x1="1539.2" y1="73.5" x2="1539.2" y2="557.5" class="g"/>
<line x1="1693.6" y1="73.5" x2="1693.6" y2="557.5" class="g"/>
<line x1="1076.0" y1="462.6" x2="1771.0" y2="462.6" class="g"/>
<line x1="1076.0" y1="355.0" x2="1771.0" y2="355.0" class="g"/>
<line x1="1076.0" y1="229.2" x2="1771.0" y2="229.2" class="g"/></g><rect x="1076.0" y="73.5" width="695.0" height="484.0" fill="none" stroke="#3a3a3a" stroke-width="1.6"/>
<g clip-path="url(#cc)"><rect x="72.5" y="734.0" width="699.0" height="515.0" fill="#d0cfe5"/><path fill-rule="evenodd" fill="#e1e3f0" d="M72.5,732.0 774.5,732.0 774.5,1252.0 70.5,1252.0 70.5,732.0 72.5,732.0Z"/><path fill-rule="evenodd" fill="#f0f1f6" d="M72.5,732.0 774.5,732.0 774.5,1252.0 456.4,1252.0 438.5,1251.1 421.4,1252.0 70.5,1252.0 70.5,732.0 72.5,732.0ZM101.8,1038.0 91.7,1040.0 87.9,1042.0 84.5,1045.3 81.1,1054.0 80.6,1066.0 83.8,1082.0 90.5,1096.3 94.5,1101.7 98.5,1105.2 102.5,1107.0 106.5,1107.4 112.5,1105.8 120.5,1101.5 140.5,1085.7 150.0,1074.0 152.4,1068.0 153.0,1062.0 151.4,1056.0 148.8,1052.0 144.4,1048.0 137.3,1044.0 120.5,1039.2 101.8,1038.0Z"/><path fill-rule="evenodd" fill="#f7f1ea" d="M72.5,732.0 731.5,732.0 744.5,742.4 754.5,748.4 764.5,750.9 774.5,750.7 774.5,1109.0 764.8,1098.0 754.5,1091.5 710.5,1076.7 700.5,1071.4 686.5,1061.8 678.8,1058.0 670.5,1056.2 662.5,1056.8 655.1,1060.0 650.6,1064.0 646.6,1070.0 644.1,1078.0 644.2,1084.0 646.1,1088.0 655.6,1094.0 659.3,1098.0 659.4,1102.0 656.5,1104.6 650.5,1104.3 640.5,1098.0 634.5,1095.7 624.5,1095.4 612.5,1097.2 602.5,1100.2 594.5,1103.9 566.5,1123.3 550.5,1130.3 530.5,1135.1 442.5,1150.9 426.5,1152.6 412.5,1152.3 400.5,1150.7 372.5,1144.9 362.5,1144.0 350.5,1145.9 342.5,1150.0 338.9,1154.0 337.5,1160.0 339.0,1164.0 343.0,1168.0 356.5,1174.3 402.5,1186.6 424.5,1196.3 448.8,1210.0 463.0,1220.0 464.6,1224.0 462.8,1226.0 458.7,1228.0 422.5,1237.2 371.7,1252.0 157.9,1252.0 158.8,1222.0 157.5,1160.0 158.6,1134.0 160.5,1122.0 163.2,1112.0 177.3,1078.0 178.8,1070.0 178.5,1062.0 175.8,1054.0 169.8,1046.0 161.2,1040.0 152.5,1036.1 130.5,1030.0 80.5,1022.6 74.5,1021.3 70.5,1019.4 70.5,732.0 72.5,732.0ZM458.8,750.0 454.1,754.0 453.3,758.0 456.0,764.0 460.9,768.0 466.5,770.3 474.5,770.7 480.5,768.3 484.4,764.0 485.6,760.0 485.2,756.0 482.5,752.0 480.5,750.6 470.5,748.1 464.5,748.4 458.8,750.0Z"/><path fill-rule="evenodd" fill="#fae7cc" d="M72.5,732.0 376.5,732.0 353.4,740.0 345.7,746.0 344.1,750.0 344.9,756.0 348.8,762.0 354.5,766.9 368.5,773.5 408.5,782.3 446.5,795.9 460.5,798.6 474.5,799.6 484.5,799.0 494.5,797.0 502.5,793.7 508.5,789.3 512.9,784.0 516.5,777.3 524.5,751.3 527.7,744.0 533.9,738.0 542.5,734.5 551.0,732.0 686.0,732.0 690.3,744.0 691.7,756.0 690.8,766.0 684.5,796.0 682.5,812.0 683.2,830.0 687.2,842.0 693.0,850.0 702.5,857.3 714.5,862.9 744.3,872.0 754.0,876.0 763.0,882.0 774.5,893.8 774.5,1088.8 762.5,1081.9 724.5,1066.7 691.3,1048.0 680.5,1044.8 668.5,1043.7 656.5,1045.4 645.6,1050.0 637.1,1056.0 614.5,1075.4 585.0,1092.0 556.5,1110.7 544.5,1116.8 532.5,1121.1 516.5,1125.2 456.5,1136.1 432.5,1138.2 414.5,1137.3 396.5,1133.8 364.5,1125.1 350.5,1123.2 334.5,1123.7 306.5,1127.4 290.5,1126.9 270.5,1121.6 230.5,1104.4 220.7,1098.0 214.5,1091.0 210.5,1083.4 199.3,1054.0 193.9,1046.0 186.5,1039.2 174.5,1032.6 160.5,1027.6 106.5,1016.1 92.7,1012.0 82.5,1005.8 78.5,1001.1 75.8,996.0 72.7,986.0 70.5,973.9 70.5,732.0 72.5,732.0ZM350.5,1219.3 356.5,1218.1 362.5,1218.7 366.5,1220.5 368.4,1224.0 365.3,1228.0 360.5,1230.0 350.3,1230.0 346.1,1228.0 344.7,1226.0 344.7,1224.0 346.5,1221.5 350.5,1219.3Z"/><path fill-rule="evenodd" fill="#fbdcb2" d="M72.5,732.0 242.9,732.0 254.5,740.2 288.5,758.8 322.3,782.0 343.7,792.0 424.5,815.6 440.5,818.4 478.5,822.5 494.5,827.1 500.5,830.5 506.3,836.0 518.5,858.0 523.5,864.0 528.6,868.0 542.5,874.0 576.5,881.3 590.5,885.9 598.5,890.8 618.3,908.0 628.6,914.0 638.4,918.0 652.2,922.0 673.5,926.0 724.5,931.9 744.5,931.3 774.5,925.4 774.5,1075.6 738.5,1061.9 708.5,1045.4 698.5,1040.9 684.5,1037.4 668.5,1036.5 654.5,1038.5 640.1,1044.0 630.6,1050.0 604.5,1069.5 552.5,1100.5 538.5,1107.8 526.5,1112.2 510.5,1116.6 460.5,1126.4 434.5,1128.8 412.5,1127.1 394.5,1122.6 356.5,1109.6 340.5,1106.9 304.5,1104.0 292.5,1100.7 280.5,1095.6 254.5,1081.3 240.5,1071.5 230.5,1061.2 214.5,1039.7 208.4,1034.0 200.5,1029.0 190.5,1024.7 176.5,1020.7 124.5,1011.1 106.5,1006.5 98.5,1003.1 92.5,999.4 88.5,995.8 84.2,990.0 78.8,976.0 75.6,958.0 73.6,928.0 74.3,892.0 73.3,886.0 70.5,880.7 70.5,732.0 72.5,732.0ZM182.3,938.0 182.4,940.0 184.5,941.8 189.2,942.0 189.9,940.0 188.5,938.0 184.5,937.0 182.3,938.0Z"/><path fill-rule="evenodd" fill="#f7c98e" d="M92.5,733.5 93.4,732.0 187.0,732.0 193.5,740.0 199.8,746.0 218.5,759.0 232.1,766.0 268.5,781.8 306.9,800.0 328.5,807.9 370.5,820.4 410.5,834.8 449.2,844.0 460.5,848.1 466.5,851.9 470.8,856.0 482.7,874.0 488.5,880.6 496.5,886.7 508.5,892.3 552.5,905.6 601.1,924.0 623.3,930.0 694.5,942.6 748.5,954.6 762.5,954.7 774.5,950.3 774.5,1063.5 748.5,1055.7 716.5,1039.2 702.5,1033.9 692.5,1031.7 680.5,1030.5 658.5,1031.8 644.5,1035.5 632.5,1040.9 594.5,1066.2 544.5,1094.6 528.5,1101.8 504.5,1109.1 462.5,1117.8 440.5,1120.4 422.5,1120.0 410.5,1117.9 397.5,1114.0 356.5,1096.5 310.5,1082.6 289.0,1072.0 268.4,1060.0 255.1,1050.0 246.6,1040.0 232.5,1016.6 228.5,1012.4 222.5,1009.0 214.5,1007.5 180.5,1007.8 148.5,1005.6 124.5,1001.8 107.3,996.0 98.3,990.0 90.9,980.0 86.5,967.3 84.6,952.0 85.4,938.0 88.5,928.0 94.5,920.1 104.5,914.5 118.5,912.4 124.5,913.1 128.5,914.6 134.5,920.3 146.5,940.0 156.5,950.7 172.5,962.5 192.5,971.9 208.5,975.5 214.5,975.2 218.0,974.0 220.6,972.0 223.2,968.0 224.6,962.0 224.7,956.0 222.7,946.0 217.8,936.0 210.5,927.3 201.4,920.0 192.5,915.0 184.5,911.9 148.5,903.8 142.5,901.4 138.5,898.4 120.5,871.3 96.5,845.2 88.5,834.2 82.7,822.0 77.6,806.0 74.4,790.0 73.6,776.0 75.2,766.0 78.0,758.0 92.5,733.5Z"/><path fill-rule="evenodd" fill="#f1b06a" d="M144.5,782.0 154.5,781.3 168.5,782.7 236.5,797.0 256.5,802.8 302.5,819.3 354.5,834.4 392.4,850.0 422.8,860.0 434.5,864.8 446.5,872.3 466.2,890.0 476.5,897.4 489.6,904.0 508.5,910.7 566.0,928.0 589.8,934.0 611.7,938.0 664.5,945.3 692.5,951.0 718.5,959.0 756.5,975.3 766.5,977.3 774.5,976.0 774.5,1050.1 764.5,1049.3 754.5,1046.6 724.5,1032.2 708.5,1027.1 686.5,1024.7 662.5,1026.0 646.5,1029.4 630.5,1035.7 619.1,1042.0 592.5,1059.1 546.5,1084.0 530.5,1091.7 512.5,1098.1 470.5,1108.3 442.5,1112.4 430.5,1112.6 420.5,1111.6 410.5,1109.3 398.5,1104.9 362.5,1085.4 322.5,1065.3 288.4,1042.0 275.8,1030.0 270.7,1022.0 267.3,1014.0 258.9,982.0 253.9,968.0 244.7,950.0 234.3,934.0 224.1,922.0 212.5,911.9 200.5,903.9 175.0,890.0 164.6,882.0 154.4,870.0 127.2,830.0 123.7,822.0 121.7,814.0 121.5,806.0 123.3,798.0 126.5,792.3 130.7,788.0 136.5,784.4 144.5,782.0ZM108.5,946.0 114.5,945.4 120.5,947.2 136.5,957.7 159.4,978.0 162.7,984.0 161.5,988.0 158.4,990.0 152.5,991.5 136.5,991.6 121.2,988.0 110.9,982.0 104.3,974.0 101.9,968.0 100.9,962.0 101.2,956.0 102.5,951.7 104.5,948.7 108.5,946.0Z"/><path fill-rule="evenodd" fill="#eb9e48" d="M216.5,825.7 234.5,824.3 252.5,825.9 306.5,838.1 330.5,844.8 344.5,850.4 376.5,865.6 410.5,875.6 422.5,880.0 434.5,886.7 461.8,906.0 474.5,913.1 494.5,921.1 522.5,929.6 567.1,940.0 594.5,943.9 658.5,951.0 678.5,954.9 696.5,960.1 716.5,968.9 733.0,980.0 752.5,998.2 770.1,1012.0 772.5,1016.0 772.5,1022.0 768.5,1027.4 762.5,1029.0 755.8,1028.0 732.5,1020.7 714.5,1018.5 682.5,1018.8 654.5,1022.4 640.5,1026.2 626.5,1031.8 574.5,1060.8 536.5,1079.6 512.5,1088.9 474.5,1098.9 448.5,1103.7 428.5,1104.1 418.5,1102.5 410.5,1100.0 394.5,1092.0 368.5,1073.8 336.9,1054.0 310.2,1034.0 296.6,1022.0 290.2,1014.0 284.8,1004.0 281.2,994.0 273.2,964.0 269.8,956.0 265.0,948.0 256.9,938.0 232.5,912.1 199.0,884.0 190.1,874.0 185.8,866.0 183.7,858.0 183.9,850.0 186.5,842.7 190.5,837.5 197.8,832.0 206.5,828.2 216.5,825.7Z"/><path fill-rule="evenodd" fill="#e18b2c" d="M262.5,850.0 278.5,850.3 294.5,852.2 308.5,855.0 320.5,858.8 364.5,880.7 402.5,890.4 416.5,895.2 426.5,900.3 452.5,917.4 466.5,925.2 484.5,932.8 504.5,939.1 526.5,943.9 552.5,947.7 648.5,955.6 666.5,958.7 682.5,963.1 699.2,970.0 713.8,980.0 719.0,986.0 721.2,990.0 722.3,994.0 721.9,998.0 719.4,1002.0 717.0,1004.0 707.5,1008.0 654.5,1017.3 630.5,1024.6 616.5,1030.8 588.5,1046.0 568.5,1055.7 532.5,1071.8 510.5,1079.8 471.7,1090.0 452.5,1093.9 434.5,1094.9 420.5,1092.5 412.5,1089.2 404.5,1084.3 376.5,1061.1 328.7,1028.0 312.5,1014.4 303.7,1004.0 296.9,990.0 290.2,956.0 287.7,948.0 284.5,942.0 278.0,934.0 255.6,914.0 240.4,898.0 230.9,886.0 226.3,876.0 225.8,870.0 226.8,866.0 229.0,862.0 233.1,858.0 238.5,854.9 246.5,852.1 262.5,850.0Z"/><path fill-rule="evenodd" fill="#cf7419" d="M284.5,871.8 296.5,871.6 308.5,874.0 318.5,877.9 338.0,888.0 348.5,892.3 361.6,896.0 390.5,902.0 404.5,906.4 420.5,914.6 458.5,941.5 468.5,946.9 480.5,951.5 492.5,954.3 508.5,955.9 618.5,959.0 654.5,962.6 674.5,967.8 688.5,974.0 694.5,978.0 700.4,984.0 702.4,988.0 702.8,992.0 699.1,998.0 690.5,1002.9 680.5,1006.1 644.5,1014.6 628.5,1019.8 572.5,1045.7 520.5,1065.7 496.5,1072.4 458.5,1080.3 442.5,1081.6 431.0,1080.0 422.5,1076.3 417.0,1072.0 400.6,1052.0 394.0,1046.0 384.5,1040.2 360.5,1028.4 344.5,1018.6 328.5,1006.7 318.6,996.0 314.1,988.0 311.4,980.0 306.9,944.0 302.9,932.0 294.5,920.8 272.5,901.2 268.5,896.0 265.8,890.0 265.6,884.0 269.2,878.0 275.8,874.0 284.5,871.8Z"/><path fill-rule="evenodd" fill="#bb621d" d="M338.5,911.8 346.5,910.5 358.5,910.4 370.5,911.5 382.5,913.8 399.1,920.0 413.3,930.0 420.5,938.0 425.8,946.0 429.4,954.0 431.4,962.0 431.7,970.0 430.1,978.0 427.4,984.0 423.0,990.0 414.5,997.0 404.5,1002.0 392.5,1005.4 380.5,1006.6 368.5,1005.3 358.5,1002.3 348.5,997.3 338.8,990.0 332.3,982.0 327.9,972.0 325.5,960.0 324.7,944.0 325.5,928.0 327.7,920.0 332.5,914.4 338.5,911.8ZM566.5,965.9 622.5,965.5 642.5,967.2 657.5,970.0 672.5,975.5 681.8,982.0 684.6,986.0 685.2,990.0 683.2,994.0 681.0,996.0 668.5,1002.0 620.5,1016.9 568.5,1038.6 540.5,1047.7 518.5,1053.7 494.5,1057.9 472.5,1058.7 459.8,1056.0 456.3,1054.0 452.6,1050.0 450.3,1044.0 449.5,1034.0 451.0,1024.0 454.1,1016.0 458.0,1010.0 463.6,1004.0 484.0,988.0 500.5,978.0 516.5,972.3 538.5,968.2 566.5,965.9Z"/><path fill-rule="evenodd" fill="#a25322" d="M358.5,927.9 368.5,926.9 380.5,929.4 390.5,934.9 396.9,942.0 399.8,950.0 399.1,960.0 394.9,968.0 388.5,973.7 378.5,977.9 366.5,978.5 356.5,974.8 352.5,971.8 348.5,967.0 344.1,956.0 343.6,948.0 344.5,942.0 348.6,934.0 352.5,930.6 358.5,927.9ZM576.5,974.0 616.5,972.3 632.5,973.2 646.5,975.4 658.5,979.7 664.4,984.0 666.3,988.0 666.0,990.0 662.7,994.0 650.4,1000.0 618.5,1010.7 586.5,1022.9 556.5,1031.4 536.5,1034.5 520.5,1035.1 508.5,1032.5 503.1,1028.0 501.7,1024.0 501.7,1020.0 505.2,1010.0 513.4,998.0 522.0,990.0 532.1,984.0 542.7,980.0 558.5,976.4 576.5,974.0Z"/><path fill-rule="evenodd" fill="#8f4623" d="M600.5,981.9 621.3,982.0 634.5,984.8 638.5,987.4 639.3,990.0 638.0,992.0 631.6,996.0 598.5,1008.2 574.5,1014.1 564.5,1014.8 555.6,1014.0 550.2,1012.0 546.3,1008.0 545.8,1004.0 548.7,998.0 553.0,994.0 560.1,990.0 578.5,984.6 600.5,981.9Z"/><path class="state" d="M72.2,952.7 L81.5,953.4 L93.0,962.1 L104.6,961.4 L123.1,957.5 L130.1,956.3 L154.1,956.3"/><path class="state" d="M152.7,912.3 L152.7,950.1 L154.1,956.3 L156.7,959.2 L159.0,963.5 L155.5,972.1 L150.9,980.7 L153.2,987.8 L152.9,1013.0"/><path class="state" d="M69.9,1013.0 L222.1,1013.0"/><path class="state" d="M118.5,1013.0 L118.5,1054.1 L180.6,1107.3"/><path class="state" d="M187.3,1013.0 L187.3,1091.5 L179.4,1093.5 L181.3,1106.0 L180.6,1109.9 L186.4,1116.5 L182.9,1120.4 L181.8,1133.0 L179.6,1137.0"/><path class="state" d="M164.2,912.3 L164.2,927.1 L168.3,935.2 L181.0,946.9 L182.7,962.7 L190.2,962.1 L194.3,969.8 L201.8,979.2 L207.6,977.1 L216.8,977.1 L222.1,977.8"/><path class="state" d="M222.1,970.7 L222.1,1026.8 L245.2,1026.8 L326.2,1026.8"/><path class="state" d="M222.1,970.7 L303.0,970.7"/><path class="state" d="M303.0,912.3 L303.0,1026.8"/><path class="state" d="M187.3,1080.9 L326.2,1080.9"/><path class="state" d="M245.2,1026.8 L245.2,1154.8"/><path class="state" d="M326.2,1026.8 L326.2,1087.6"/><path class="state" d="M326.2,1040.5 L404.3,1040.5"/><path class="state" d="M315.2,1080.9 L315.2,1146.2 L273.3,1146.2"/><path class="state" d="M315.2,1087.6 L349.9,1087.6 L349.9,1113.1 L359.2,1115.2 L373.0,1119.1 L385.8,1121.7 L398.5,1122.3 L408.9,1123.0 L413.8,1125.1"/><path class="state" d="M412.1,1080.9 L412.1,1052.7 L408.9,1045.9 L404.3,1040.5"/><path class="state" d="M303.0,957.2 L389.7,957.2"/><path class="state" d="M303.0,999.0 L367.3,999.0 L380.0,1001.1 L389.2,1006.0 L391.0,1006.1"/><path class="state" d="M381.9,912.3 L385.8,933.0 L389.2,952.0 L389.7,957.2 L386.3,962.1 L391.0,966.4 L391.0,992.0"/><path class="state" d="M391.0,992.0 L451.5,992.0"/><path class="state" d="M391.0,1006.1 L395.0,1013.0 L397.9,1024.0 L398.8,1032.6"/><path class="state" d="M398.8,1032.6 L445.6,1032.2 L449.4,1035.0"/><path class="state" d="M412.1,1087.6 L463.9,1087.6 L464.8,1091.5 L461.3,1094.2 L469.1,1094.2"/><path class="state" d="M412.1,1080.9 L412.1,1087.6 L414.3,1102.1 L413.8,1125.1"/><path class="state" d="M418.9,1126.2 L418.9,1133.3 L452.1,1133.3"/><path class="state" d="M418.9,1133.3 L418.9,1147.5 L423.9,1156.4 L424.8,1167.9 L422.2,1174.2"/><path class="state" d="M446.5,1159.0 L468.7,1159.0 L470.2,1165.4 L470.2,1169.2"/><path class="state" d="M486.4,1107.3 L483.3,1147.5 L484.1,1166.6"/><path class="state" d="M516.5,1107.3 L521.4,1135.3 L523.5,1142.4 L522.3,1151.3 L523.5,1159.0"/><path class="state" d="M493.4,1159.1 L523.5,1159.0 L525.1,1162.8 L540.8,1163.5 L555.8,1164.5 L557.7,1162.2 L558.7,1164.1 L563.9,1162.6"/><path class="state" d="M462.1,1107.3 L531.3,1107.3 L545.4,1107.3"/><path class="state" d="M471.4,1087.6 L488.2,1087.6 L487.9,1085.2 L538.5,1086.2 L561.9,1086.4 L629.1,1086.9"/><path class="state" d="M561.9,1086.4 L551.2,1094.6 L540.8,1100.1 L531.3,1107.3"/><path class="state" d="M545.4,1107.3 L553.5,1104.7 L569.3,1105.4 L570.9,1109.7 L584.8,1109.9 L598.1,1122.3"/><path class="state" d="M545.4,1107.3 L551.2,1115.2 L555.8,1124.3 L560.5,1130.8 L565.1,1138.5 L570.9,1145.6"/><path class="state" d="M451.5,992.0 L451.7,999.0 L458.1,1006.0 L463.3,1015.7 L452.9,1025.4 L449.4,1035.0 L449.4,1041.9 L457.5,1052.7 L463.3,1058.1 L463.3,1064.9 L471.4,1076.9 L475.7,1080.9 L474.9,1086.2 L469.1,1094.2 L464.4,1106.0 L458.7,1115.2 L452.9,1126.9 L452.1,1133.3 L453.5,1141.1 L448.2,1151.3 L446.5,1159.0"/><path class="state" d="M475.7,1080.9 L483.0,1079.6 L487.6,1074.2 L493.4,1068.9 L502.6,1068.2 L507.3,1066.2 L514.2,1063.5 L518.8,1058.1 L525.8,1052.7 L531.5,1054.8 L538.5,1058.8 L551.2,1062.2 L555.8,1059.5 L560.5,1052.7 L567.4,1048.7 L573.2,1043.2 L575.3,1031.7"/><path class="state" d="M551.2,1062.2 L558.2,1073.6 L561.6,1078.3 L553.5,1080.9 L538.5,1086.2"/><path class="state" d="M494.2,1016.3 L494.2,1049.3 L493.4,1058.1 L489.9,1064.9 L488.2,1070.2 L487.6,1074.2"/><path class="state" d="M525.5,1017.1 L525.5,1052.7"/><path class="state" d="M494.5,1017.1 L541.4,1016.7"/><path class="state" d="M458.2,1006.0 L491.1,1006.0"/><path class="state" d="M575.3,1013.0 L575.3,1044.3 L630.0,1044.3"/><path class="state" d="M584.1,1013.0 L635.1,1013.0 L638.0,1015.7 L642.6,1022.0 L651.9,1026.8"/><path class="state" d="M635.1,1013.0 L638.0,1015.7 L639.1,1020.6 L642.6,1022.0 L638.0,1029.5 L636.8,1035.0 L641.5,1037.8 L638.0,1041.9 L633.4,1045.9 L632.7,1050.0"/><path class="state" d="M575.3,1044.3 L587.3,1044.3 L587.3,1051.4 L599.8,1048.7 L606.8,1050.0 L610.2,1054.1 L616.0,1056.8 L617.2,1063.5"/><path class="state" d="M587.3,1051.4 L581.3,1060.8 L577.8,1067.6 L569.7,1074.2 L561.6,1078.3"/><path class="state" d="M630.0,1044.3 L630.0,1061.5 L638.6,1061.5"/><path class="state" d="M441.3,946.2 L439.0,954.9 L433.8,962.1 L433.2,974.3 L442.5,979.2 L450.6,986.3 L451.5,992.0"/><path class="state" d="M461.0,948.1 L477.2,956.3 L487.6,959.2 L493.4,969.3"/><path class="state" d="M658.2,970.6 L658.2,990.6 L659.4,1002.5 L656.5,1012.3 L654.8,1026.8"/><path class="state" d="M659.4,1002.5 L682.0,1003.2 L686.6,1001.1"/><path class="state" d="M656.5,1012.3 L676.2,1013.0 L680.8,1013.0 L684.3,1019.9"/><path class="state" d="M676.2,1013.0 L676.2,1022.7"/><path class="state" d="M667.5,1002.8 L669.2,992.0 L673.9,980.7 L679.6,970.6"/><path class="state" d="M684.5,966.4 L685.7,987.8 L688.9,997.6"/><path class="intl" d="M80.3,912.3 L406.0,912.3 L406.0,906.6 L410.1,907.8 L412.4,916.7 L421.6,919.7 L435.5,920.5 L449.4,926.4 L465.6,925.6 L470.2,927.1"/><path class="intl" d="M624.1,982.1 L635.7,972.8 L642.6,970.7 L679.6,970.6 L684.3,966.4 L693.5,957.8 L697.0,946.2 L706.3,935.2 L716.7,936.7 L722.5,940.8 L722.5,960.6 L727.1,962.1 L731.7,970.7"/><path class="intl" d="M152.1,1139.4 L179.6,1137.0 L221.8,1154.8 L254.9,1154.8 L254.9,1149.0 L274.3,1149.0 L278.2,1153.3 L292.1,1163.1 L297.8,1175.5 L311.7,1184.3 L318.7,1174.9 L333.7,1174.6 L341.8,1183.1 L348.7,1194.4 L355.7,1203.1 L359.2,1214.3 L370.7,1220.5 L380.0,1223.6 L382.9,1222.4"/><path class="coast" d="M74.0,1049.2 L77.3,1057.4 L83.9,1064.0 L89.6,1066.5 L92.1,1075.5 L95.4,1083.7 L97.0,1090.3 L103.6,1096.9 L109.4,1105.1 L112.7,1113.4 L123.4,1116.7 L134.9,1120.0 L144.8,1125.7 L149.7,1131.5 L153.0,1138.1 L158.0,1149.6 L162.9,1159.5 L167.8,1172.6 L172.8,1179.2 L181.0,1185.8 L186.0,1192.4 L186.8,1197.3 L177.7,1200.6 L182.7,1203.9 L189.2,1212.2 L199.1,1215.5 L207.4,1220.4 L210.6,1230.3 L210.6,1236.9 L218.9,1241.8 L225.5,1250.0"/><path class="coast" d="M179.4,1149.6 L179.4,1161.1 L180.2,1171.0 L186.0,1177.6 L195.8,1189.1 L205.7,1202.3 L214.0,1213.8 L218.9,1222.0 L223.8,1233.6 L227.1,1243.4 L229.6,1250.0"/><path class="coast" d="M179.4,1149.6 L181.0,1149.6 L192.5,1152.1 L197.5,1157.8 L200.8,1167.7 L209.0,1180.9 L218.9,1194.0 L227.1,1199.0 L233.7,1207.2 L240.3,1215.5 L243.6,1225.3 L253.5,1231.9 L261.7,1240.1 L266.6,1250.0"/><path class="coast" d="M376.0,1250.0 L377.9,1234.0 L381.0,1222.8 L379.7,1211.5 L379.1,1205.2 L382.9,1197.7 L389.1,1191.4 L397.9,1187.6 L405.5,1183.9 L409.2,1177.6 L415.5,1176.3 L425.5,1175.1 L436.8,1176.3 L444.4,1176.3 L450.6,1178.8 L453.2,1182.6 L463.2,1182.6 L470.7,1181.3 L475.7,1182.6 L472.0,1177.6 L470.7,1172.6 L465.7,1170.0 L463.2,1168.2 L468.2,1166.3 L478.3,1166.3 L490.8,1165.7 L505.9,1166.3 L513.4,1170.0 L518.0,1173.5 L523.4,1176.2 L534.0,1171.5 L540.7,1172.8 L547.4,1181.5 L550.1,1189.5 L550.1,1198.9 L552.7,1206.9 L556.7,1213.6 L560.7,1220.2 L566.1,1228.2 L570.1,1232.9 L575.4,1230.9 L579.4,1224.2 L580.8,1209.5 L578.1,1200.2 L572.8,1186.8 L567.4,1173.5 L564.8,1162.8 L565.4,1156.1 L568.8,1146.8 L575.4,1140.1 L584.8,1133.4 L591.5,1128.1 L596.8,1122.7 L606.2,1118.7 L615.5,1112.1 L622.2,1106.7 L627.5,1102.7 L632.9,1100.0 L631.5,1092.0 L628.5,1086.0 L628.5,1080.0 L631.0,1073.0 L634.5,1063.7 L637.6,1054.4 L640.7,1049.7 L643.9,1045.1 L647.0,1038.9 L648.5,1032.6 L653.2,1028.0 L660.9,1024.9 L668.7,1023.3 L678.0,1020.2 L687.3,1018.7 L695.1,1015.6 L696.6,1020.2 L693.0,1017.0 L687.3,1007.8 L685.8,1001.6 L688.9,995.4 L695.1,989.2 L702.9,986.1 L709.1,983.0 L715.3,980.6 L724.6,975.2 L730.8,970.5 L738.6,968.2 L746.3,966.7 L754.1,962.8 L761.9,965.1"/><path class="coast" d="M627.0,1082.0 L624.0,1074.0 L622.5,1066.0 L624.0,1059.0 L626.0,1053.0 L628.0,1049.0"/><path class="coast" d="M763.0,964.0 L756.0,968.0 L749.0,972.0 L743.5,979.8 L742.4,987.6 L747.9,991.5 L755.6,989.2 L761.9,983.0 L769.6,978.3 L775.0,976.0"/><path class="coast" d="M684.0,944.0 L695.1,934.8 L707.5,923.9 L723.0,914.6 L738.6,909.2 L746.3,909.2 L763.4,911.0 L762.0,920.8 L752.5,926.2 L741.7,927.7 L740.0,930.0 L751.0,931.7 L755.6,939.5 L759.8,945.7 L762.0,953.4 L768.0,958.0"/><path class="coast" d="M684.0,943.0 L699.8,927.1 L715.3,914.6 L730.8,903.8 L738.6,896.0"/><path class="coast" d="M728.6,905.8 L735.6,896.1 L749.4,893.3 L768.8,892.0 L775.0,892.0"/><path class="coast" d="M411.3,732.0 L411.3,736.2 L410.8,750.5 L414.6,758.3 L422.3,757.7 L430.0,759.4 L434.5,770.4 L437.8,780.3 L440.0,786.9 L446.6,784.7 L455.4,783.1 L465.3,788.0 L480.0,792.4 L487.6,795.6 L500.0,805.4 L513.9,809.5 L524.9,815.1 L541.6,815.8 L554.0,818.5 L555.4,831.0 L554.7,851.8 L559.6,857.3 L569.3,865.6 L577.6,876.7 L583.1,879.5 L588.7,874.0 L597.0,865.6 L598.4,858.7 L595.6,844.8 L591.4,831.0 L588.7,825.5 L599.8,819.9 L610.8,814.4 L617.8,806.1 L619.2,795.0 L616.4,783.9 L610.8,767.3 L602.5,763.1 L597.0,756.2 L601.1,749.2 L609.5,745.1 L610.8,732.0"/><path class="coast" d="M702.3,732.0 L702.3,736.8 L703.7,747.9 L712.0,757.6 L721.7,765.9 L732.8,761.7 L743.9,753.4 L749.4,746.5 L750.8,738.2 L757.7,735.4 L767.4,739.5 L772.0,742.0"/><path class="coast" d="M72.0,902.9 L81.4,901.4 L82.8,908.8 L85.8,916.1 L88.7,922.0 L90.2,928.0 L88.7,935.3 L85.8,939.7 L79.0,938.0 L74.0,938.0"/><path class="coast" d="M72.0,953.0 L78.4,954.5"/><path class="coast" d="M560.7,1240.3 L566.1,1238.3 L570.0,1236.0"/><path class="coast" d="M441.6,946.6 L451.1,940.3 L461.6,931.8 L474.3,922.4 L486.9,912.9 L497.5,915.5 L507.0,916.6 L512.2,926.6 L522.8,928.2 L525.9,936.1 L527.0,948.7 L519.6,946.6 L510.1,947.7 L498.5,950.8 L493.3,946.6 L485.9,941.3 L489.0,936.6 L482.7,940.3 L475.3,942.4 L466.9,946.6 L459.5,947.7 L455.3,943.4 L449.0,946.6Z"/><path class="coast" d="M489.0,976.1 L495.4,963.5 L503.8,959.3 L514.3,957.1 L521.7,958.2 L518.6,961.4 L513.3,966.6 L511.2,971.9 L508.0,980.3 L508.0,996.1 L508.5,1006.7 L503.8,1016.2 L497.5,1017.2 L492.2,1013.0 L490.1,1001.4 L490.6,988.8 L493.3,980.3Z"/><path class="coast" d="M522.8,958.2 L533.3,954.0 L546.0,954.5 L556.5,955.0 L570.2,957.1 L577.6,963.5 L583.9,973.0 L579.7,977.2 L572.3,974.0 L566.0,969.8 L563.9,979.3 L561.8,988.8 L558.6,996.1 L553.3,997.2 L549.1,990.9 L541.7,985.6 L536.5,988.8 L537.5,980.3 L541.7,971.9 L539.6,964.5 L533.3,961.4 L524.9,960.3Z"/><path class="coast" d="M542.8,1016.2 L548.1,1012.0 L559.7,1007.7 L570.2,1004.6 L582.9,1000.4 L591.3,999.3 L594.5,1003.5 L586.0,1007.7 L577.6,1012.0 L567.0,1016.2 L556.5,1019.3 L547.0,1020.4Z"/><path class="coast" d="M586.0,993.0 L590.2,987.7 L603.9,985.6 L615.5,983.5 L625.0,980.3 L626.1,990.9 L614.5,994.0 L600.8,994.0 L588.1,996.1Z"/><path class="coast" d="M360.3,839.4 L368.0,838.5 L376.2,840.4 L380.0,847.0 L384.1,855.3 L388.0,864.0 L392.1,875.2 L394.1,887.1 L388.1,893.1 L386.0,884.0 L384.1,875.2 L378.0,869.0 L372.2,863.2 L366.0,856.0 L364.3,851.3Z"/><path class="coast" d="M336.4,849.3 L344.0,850.0 L352.3,853.3 L349.0,860.0 L350.3,867.2 L356.0,870.0 L360.3,873.2 L363.0,879.0 L366.3,885.1 L372.2,893.1 L366.3,895.0 L361.0,888.0 L356.3,879.1 L348.4,871.2 L344.0,864.0 L342.4,857.3Z"/><path class="coast" d="M326.4,768.2 L330.8,775.9 L327.5,780.3 L323.1,791.3 L316.5,796.9 L318.7,788.0 L319.8,778.1Z"/><path class="coast" d="M221.5,758.1 L230.3,753.7 L236.2,744.8 L243.6,741.9 L258.4,744.8 L264.3,749.3 L255.4,752.2 L236.2,753.7 L230.3,759.6Z"/><path class="coast" d="M559.6,853.0 L565.0,849.0 L572.0,852.0 L568.0,857.3 L562.0,856.5Z"/><path class="coast" d="M582.0,798.0 L588.0,794.5 L592.8,797.0 L591.0,805.0 L584.0,806.0Z"/><path class="coast" d="M592.8,1213.6 L598.0,1215.5 L603.5,1216.2 L608.0,1214.5 L612.8,1213.6 L614.2,1221.6 L612.0,1217.0 L603.0,1218.0 L594.0,1216.5Z"/><path class="coast" d="M597.0,1233.0 L601.0,1231.5 L604.0,1236.0 L607.0,1244.0 L606.0,1250.0 L600.0,1250.0 L598.0,1242.0Z"/><path class="coast" d="M619.5,1228.9 L622.0,1231.0 L624.8,1234.9 L627.5,1237.6 L625.0,1238.0 L621.0,1233.0Z"/><path class="coast" d="M631.5,1238.9 L633.0,1241.0 L634.9,1243.6 L633.5,1244.0 L631.0,1241.0Z"/><line x1="118.5" y1="736.0" x2="118.5" y2="1247.0" class="g"/>
<line x1="234.2" y1="736.0" x2="234.2" y2="1247.0" class="g"/>
<line x1="349.9" y1="736.0" x2="349.9" y2="1247.0" class="g"/>
<line x1="465.6" y1="736.0" x2="465.6" y2="1247.0" class="g"/>
<line x1="581.3" y1="736.0" x2="581.3" y2="1247.0" class="g"/>
<line x1="697.0" y1="736.0" x2="697.0" y2="1247.0" class="g"/>
<line x1="74.5" y1="1171.7" x2="769.5" y2="1171.7" class="g"/>
<line x1="74.5" y1="1040.5" x2="769.5" y2="1040.5" class="g"/>
<line x1="74.5" y1="897.2" x2="769.5" y2="897.2" class="g"/></g><rect x="74.5" y="736.0" width="695.0" height="511.0" fill="none" stroke="#3a3a3a" stroke-width="1.6"/>
<g clip-path="url(#cd)"><rect x="1074.0" y="734.0" width="699.0" height="515.0" fill="#d7d8e8"/><path fill-rule="evenodd" fill="#eceff8" d="M1074.0,732.0 1776.0,732.0 1776.0,1252.0 1072.0,1252.0 1072.0,732.0 1074.0,732.0Z"/><path fill-rule="evenodd" fill="#fbf1e6" d="M1074.0,732.0 1776.0,732.0 1776.0,1252.0 1308.3,1252.0 1335.6,1244.0 1356.3,1234.0 1366.0,1226.0 1367.3,1222.0 1365.2,1218.0 1358.5,1212.0 1346.6,1204.0 1332.0,1196.0 1318.0,1189.7 1302.0,1184.0 1264.0,1172.8 1252.0,1170.1 1244.0,1169.6 1236.0,1170.5 1228.0,1173.0 1207.9,1184.0 1187.9,1198.0 1182.2,1204.0 1178.0,1210.7 1175.5,1218.0 1175.0,1224.0 1176.0,1230.0 1178.0,1234.5 1182.6,1240.0 1188.0,1244.0 1204.5,1252.0 1072.0,1252.0 1072.0,1053.1 1075.1,1044.0 1076.3,1034.0 1075.1,1024.0 1072.0,1014.3 1072.0,732.0 1074.0,732.0Z"/><path fill-rule="evenodd" fill="#f9dfb8" d="M1074.0,732.0 1217.4,732.0 1216.0,738.0 1216.7,744.0 1220.3,750.0 1226.0,754.7 1242.0,761.8 1278.0,770.9 1292.0,776.2 1302.0,782.5 1333.6,808.0 1347.0,816.0 1360.5,822.0 1376.0,826.0 1392.0,827.1 1412.0,826.0 1468.0,820.0 1484.0,820.2 1498.0,822.2 1512.0,825.9 1526.0,831.4 1544.0,840.4 1585.7,864.0 1596.0,868.4 1606.0,871.0 1624.0,872.1 1670.0,868.2 1736.0,868.5 1756.0,866.3 1776.0,861.6 1776.0,1104.6 1744.0,1103.4 1672.0,1104.6 1620.0,1101.8 1598.0,1103.9 1579.4,1110.0 1516.9,1138.0 1498.8,1148.0 1472.0,1165.6 1460.0,1171.7 1440.0,1178.0 1412.0,1182.6 1386.0,1184.0 1364.0,1181.3 1336.0,1172.0 1306.0,1158.3 1268.0,1133.5 1240.0,1117.8 1232.0,1111.3 1226.9,1104.0 1224.3,1096.0 1224.2,1088.0 1231.2,1060.0 1231.9,1054.0 1231.4,1048.0 1228.4,1040.0 1216.8,1022.0 1211.6,1010.0 1208.3,994.0 1207.4,968.0 1205.3,962.0 1202.0,957.8 1196.0,954.2 1188.0,952.4 1180.0,952.3 1170.0,953.8 1152.0,959.8 1116.0,976.9 1102.0,980.5 1094.0,980.5 1088.0,979.4 1080.0,976.4 1072.0,971.8 1072.0,732.0 1074.0,732.0Z"/><path fill-rule="evenodd" fill="#f5c080" d="M1074.0,732.0 1161.2,732.0 1173.8,754.0 1179.6,762.0 1188.0,770.3 1199.2,778.0 1269.3,814.0 1343.7,842.0 1358.0,846.6 1370.0,849.1 1382.0,849.9 1428.0,847.4 1450.0,847.5 1468.0,849.2 1484.0,852.3 1504.0,858.5 1526.0,867.5 1546.0,877.6 1584.0,900.4 1596.0,905.5 1606.0,907.9 1624.0,909.0 1668.0,905.0 1700.0,904.9 1732.0,908.7 1742.0,911.2 1752.0,915.2 1762.0,921.3 1776.0,932.6 1776.0,1085.2 1674.0,1085.5 1618.0,1084.3 1590.0,1086.1 1574.0,1089.4 1560.0,1094.3 1513.2,1118.0 1450.0,1147.3 1436.0,1153.1 1424.0,1156.9 1402.0,1160.4 1380.0,1160.2 1360.0,1156.3 1340.0,1148.4 1329.1,1142.0 1319.2,1134.0 1298.5,1112.0 1281.4,1096.0 1274.1,1086.0 1271.3,1078.0 1267.7,1052.0 1264.0,1039.2 1257.2,1028.0 1240.2,1008.0 1234.7,996.0 1233.9,990.0 1234.4,984.0 1240.7,964.0 1241.8,956.0 1239.0,948.0 1234.0,943.0 1224.8,938.0 1210.0,933.6 1192.0,930.9 1176.0,930.5 1162.0,931.9 1150.0,934.4 1114.0,947.5 1102.0,950.6 1088.0,951.6 1072.0,948.9 1072.0,732.0 1074.0,732.0Z"/><path fill-rule="evenodd" fill="#eea650" d="M1074.0,732.0 1093.8,732.0 1126.0,745.5 1137.1,754.0 1156.0,776.7 1168.0,787.0 1180.1,794.0 1214.0,809.6 1248.1,828.0 1268.0,835.4 1312.0,847.4 1354.0,862.7 1366.0,865.5 1378.0,866.5 1418.0,863.9 1432.0,863.9 1446.0,865.4 1460.0,868.4 1481.1,876.0 1520.0,893.7 1576.0,923.7 1587.2,928.0 1598.0,930.9 1610.0,932.5 1622.0,932.9 1678.0,929.4 1710.0,930.4 1724.0,932.4 1738.0,935.6 1776.0,949.1 1776.0,1072.2 1606.0,1072.4 1582.0,1073.2 1562.0,1075.0 1546.1,1078.0 1534.7,1082.0 1504.0,1100.2 1482.8,1110.0 1422.0,1127.8 1406.0,1130.9 1392.0,1131.3 1380.0,1129.4 1368.0,1125.0 1355.0,1116.0 1333.5,1094.0 1312.0,1075.3 1305.2,1068.0 1299.8,1060.0 1293.5,1044.0 1287.1,1014.0 1281.8,994.0 1282.4,972.0 1280.4,960.0 1274.4,948.0 1269.0,942.0 1264.0,938.0 1246.0,928.9 1220.0,921.1 1182.0,913.8 1150.0,910.3 1138.0,910.7 1128.0,912.6 1094.0,926.9 1084.0,929.6 1072.0,931.4 1072.0,848.6 1090.0,854.0 1096.0,854.4 1102.0,853.4 1107.9,850.0 1111.1,846.0 1113.5,840.0 1114.1,834.0 1112.9,826.0 1108.7,816.0 1088.0,787.0 1072.0,760.4 1072.0,732.0 1074.0,732.0Z"/><path fill-rule="evenodd" fill="#dc8526" d="M1172.0,821.9 1184.0,822.0 1196.0,824.7 1244.0,844.6 1304.0,859.2 1346.0,875.8 1360.0,880.0 1370.0,881.6 1380.0,881.9 1422.0,879.7 1432.0,880.6 1442.0,882.8 1459.4,890.0 1486.0,906.5 1502.0,914.4 1560.8,938.0 1586.0,945.8 1602.0,948.6 1618.0,949.5 1680.0,946.9 1710.0,947.7 1738.0,951.5 1776.0,960.3 1776.0,1060.4 1610.0,1061.2 1582.0,1060.2 1560.5,1058.0 1546.0,1055.1 1534.0,1051.3 1497.9,1034.0 1454.0,1015.0 1442.0,1010.6 1432.0,1009.1 1426.0,1010.0 1422.0,1011.7 1414.0,1018.2 1406.4,1028.0 1391.7,1052.0 1382.0,1061.9 1376.0,1065.1 1368.0,1066.9 1360.0,1066.4 1350.0,1063.5 1342.0,1059.7 1334.0,1054.2 1328.1,1048.0 1324.5,1042.0 1322.0,1032.0 1322.3,1002.0 1319.8,986.0 1314.8,972.0 1308.1,958.0 1302.0,948.0 1294.0,938.7 1282.0,929.8 1264.0,921.2 1244.0,914.5 1198.0,901.5 1177.7,894.0 1163.7,886.0 1155.7,878.0 1151.6,870.0 1150.0,862.0 1150.1,852.0 1152.5,840.0 1155.8,832.0 1160.0,826.9 1166.0,823.4 1172.0,821.9ZM1073.0,868.0 1081.0,876.0 1085.4,882.0 1087.9,888.0 1088.3,892.0 1087.1,898.0 1083.7,904.0 1077.8,910.0 1072.0,914.0 1072.0,867.2 1073.0,868.0Z"/><path fill-rule="evenodd" fill="#c06a22" d="M1200.0,859.8 1206.0,858.3 1216.0,858.6 1287.2,870.0 1306.9,876.0 1342.0,892.1 1358.0,896.4 1374.0,898.1 1408.0,898.6 1422.0,900.8 1430.0,903.9 1436.6,908.0 1443.2,914.0 1458.0,931.0 1468.0,937.0 1478.0,939.4 1528.0,946.9 1584.0,960.7 1600.0,963.1 1616.0,964.0 1678.0,962.1 1708.0,962.6 1736.0,965.0 1776.0,970.9 1776.0,1048.4 1670.0,1048.6 1614.0,1049.7 1594.0,1048.5 1576.0,1045.5 1550.0,1036.8 1486.0,1007.8 1476.0,1001.8 1466.1,994.0 1446.0,972.0 1442.0,969.5 1436.0,968.1 1428.0,969.3 1418.0,974.8 1406.0,984.5 1384.0,1004.7 1376.0,1010.6 1368.0,1013.7 1362.0,1013.2 1356.0,1009.2 1352.0,1004.1 1320.0,942.1 1314.0,933.0 1308.0,926.5 1299.1,920.0 1288.0,914.4 1232.9,896.0 1211.0,886.0 1202.9,880.0 1196.8,872.0 1195.6,868.0 1196.0,864.0 1200.0,859.8Z"/><path fill-rule="evenodd" fill="#9a5025" d="M1354.0,919.5 1368.0,918.2 1384.0,920.1 1394.0,924.1 1398.7,928.0 1401.3,932.0 1402.5,936.0 1402.5,942.0 1399.0,952.0 1390.0,964.0 1380.0,971.5 1372.0,974.1 1364.0,972.6 1356.0,966.3 1347.9,954.0 1343.0,940.0 1342.7,930.0 1346.0,923.6 1354.0,919.5ZM1514.0,969.9 1526.0,968.7 1538.0,969.3 1584.0,977.6 1606.0,979.9 1698.0,978.9 1776.0,982.9 1776.0,1034.3 1676.0,1033.1 1618.0,1035.2 1602.0,1034.3 1589.5,1032.0 1571.2,1026.0 1534.9,1010.0 1518.5,1002.0 1506.2,994.0 1502.2,990.0 1499.8,986.0 1499.3,980.0 1501.4,976.0 1503.6,974.0 1514.0,969.9Z"/><path fill="#fff" d="M1781.5,952.3 L1727.1,952.3 L1727.1,1003.9 L1639.8,1003.9 L1639.8,1049.5 L1596.1,1049.5 L1596.1,1150.7 L1546.5,1150.7 L1546.5,1200.3 L1510.8,1200.3 L1510.8,1150.7 L1379.1,1150.7 L1379.1,1256.0 L1781.5,1256.0Z"/><path fill="#fff" d="M1061.5,1053.5 L1120.1,1053.5 L1120.1,1104.5 L1164.2,1104.5 L1164.2,1149.6 L1180.9,1149.6 L1180.9,1161.1 L1181.7,1171.0 L1187.5,1177.6 L1197.3,1189.1 L1207.2,1202.3 L1215.5,1213.8 L1220.4,1222.0 L1225.3,1233.6 L1228.6,1243.4 L1231.1,1256.0 L1061.5,1256.0Z"/><path class="state" d="M1073.7,952.7 L1083.0,953.4 L1094.5,962.1 L1106.1,961.4 L1124.6,957.5 L1131.6,956.3 L1155.6,956.3"/><path class="state" d="M1154.2,912.3 L1154.2,950.1 L1155.6,956.3 L1158.2,959.2 L1160.5,963.5 L1157.0,972.1 L1152.4,980.7 L1154.7,987.8 L1154.4,1013.0"/><path class="state" d="M1071.4,1013.0 L1223.6,1013.0"/><path class="state" d="M1120.0,1013.0 L1120.0,1054.1 L1182.1,1107.3"/><path class="state" d="M1188.8,1013.0 L1188.8,1091.5 L1180.9,1093.5 L1182.8,1106.0 L1182.1,1109.9 L1187.9,1116.5 L1184.4,1120.4 L1183.3,1133.0 L1181.1,1137.0"/><path class="state" d="M1165.7,912.3 L1165.7,927.1 L1169.8,935.2 L1182.5,946.9 L1184.2,962.7 L1191.7,962.1 L1195.8,969.8 L1203.3,979.2 L1209.1,977.1 L1218.3,977.1 L1223.6,977.8"/><path class="state" d="M1223.6,970.7 L1223.6,1026.8 L1246.7,1026.8 L1327.7,1026.8"/><path class="state" d="M1223.6,970.7 L1304.5,970.7"/><path class="state" d="M1304.5,912.3 L1304.5,1026.8"/><path class="state" d="M1188.8,1080.9 L1327.7,1080.9"/><path class="state" d="M1246.7,1026.8 L1246.7,1154.8"/><path class="state" d="M1327.7,1026.8 L1327.7,1087.6"/><path class="state" d="M1327.7,1040.5 L1405.8,1040.5"/><path class="state" d="M1316.7,1080.9 L1316.7,1146.2 L1274.8,1146.2"/><path class="state" d="M1316.7,1087.6 L1351.4,1087.6 L1351.4,1113.1 L1360.7,1115.2 L1374.5,1119.1 L1387.3,1121.7 L1400.0,1122.3 L1410.4,1123.0 L1415.3,1125.1"/><path class="state" d="M1413.6,1080.9 L1413.6,1052.7 L1410.4,1045.9 L1405.8,1040.5"/><path class="state" d="M1304.5,957.2 L1391.2,957.2"/><path class="state" d="M1304.5,999.0 L1368.8,999.0 L1381.5,1001.1 L1390.7,1006.0 L1392.5,1006.1"/><path class="state" d="M1383.4,912.3 L1387.3,933.0 L1390.7,952.0 L1391.2,957.2 L1387.8,962.1 L1392.5,966.4 L1392.5,992.0"/><path class="state" d="M1392.5,992.0 L1453.0,992.0"/><path class="state" d="M1392.5,1006.1 L1396.5,1013.0 L1399.4,1024.0 L1400.3,1032.6"/><path class="state" d="M1400.3,1032.6 L1447.1,1032.2 L1450.9,1035.0"/><path class="state" d="M1413.6,1087.6 L1465.4,1087.6 L1466.3,1091.5 L1462.8,1094.2 L1470.6,1094.2"/><path class="state" d="M1413.6,1080.9 L1413.6,1087.6 L1415.8,1102.1 L1415.3,1125.1"/><path class="state" d="M1420.4,1126.2 L1420.4,1133.3 L1453.6,1133.3"/><path class="state" d="M1420.4,1133.3 L1420.4,1147.5 L1425.4,1156.4 L1426.3,1167.9 L1423.7,1174.2"/><path class="state" d="M1448.0,1159.0 L1470.2,1159.0 L1471.7,1165.4 L1471.7,1169.2"/><path class="state" d="M1487.9,1107.3 L1484.8,1147.5 L1485.6,1166.6"/><path class="state" d="M1518.0,1107.3 L1522.9,1135.3 L1525.0,1142.4 L1523.8,1151.3 L1525.0,1159.0"/><path class="state" d="M1494.9,1159.1 L1525.0,1159.0 L1526.6,1162.8 L1542.3,1163.5 L1557.3,1164.5 L1559.2,1162.2 L1560.2,1164.1 L1565.4,1162.6"/><path class="state" d="M1463.6,1107.3 L1532.8,1107.3 L1546.9,1107.3"/><path class="state" d="M1472.9,1087.6 L1489.7,1087.6 L1489.4,1085.2 L1540.0,1086.2 L1563.4,1086.4 L1630.6,1086.9"/><path class="state" d="M1563.4,1086.4 L1552.7,1094.6 L1542.3,1100.1 L1532.8,1107.3"/><path class="state" d="M1546.9,1107.3 L1555.0,1104.7 L1570.8,1105.4 L1572.4,1109.7 L1586.3,1109.9 L1599.6,1122.3"/><path class="state" d="M1546.9,1107.3 L1552.7,1115.2 L1557.3,1124.3 L1562.0,1130.8 L1566.6,1138.5 L1572.4,1145.6"/><path class="state" d="M1453.0,992.0 L1453.2,999.0 L1459.6,1006.0 L1464.8,1015.7 L1454.4,1025.4 L1450.9,1035.0 L1450.9,1041.9 L1459.0,1052.7 L1464.8,1058.1 L1464.8,1064.9 L1472.9,1076.9 L1477.2,1080.9 L1476.4,1086.2 L1470.6,1094.2 L1465.9,1106.0 L1460.2,1115.2 L1454.4,1126.9 L1453.6,1133.3 L1455.0,1141.1 L1449.7,1151.3 L1448.0,1159.0"/><path class="state" d="M1477.2,1080.9 L1484.5,1079.6 L1489.1,1074.2 L1494.9,1068.9 L1504.1,1068.2 L1508.8,1066.2 L1515.7,1063.5 L1520.3,1058.1 L1527.3,1052.7 L1533.0,1054.8 L1540.0,1058.8 L1552.7,1062.2 L1557.3,1059.5 L1562.0,1052.7 L1568.9,1048.7 L1574.7,1043.2 L1576.8,1031.7"/><path class="state" d="M1552.7,1062.2 L1559.7,1073.6 L1563.1,1078.3 L1555.0,1080.9 L1540.0,1086.2"/><path class="state" d="M1495.7,1016.3 L1495.7,1049.3 L1494.9,1058.1 L1491.4,1064.9 L1489.7,1070.2 L1489.1,1074.2"/><path class="state" d="M1527.0,1017.1 L1527.0,1052.7"/><path class="state" d="M1496.0,1017.1 L1542.9,1016.7"/><path class="state" d="M1459.7,1006.0 L1492.6,1006.0"/><path class="state" d="M1576.8,1013.0 L1576.8,1044.3 L1631.5,1044.3"/><path class="state" d="M1585.6,1013.0 L1636.6,1013.0 L1639.5,1015.7 L1644.1,1022.0 L1653.4,1026.8"/><path class="state" d="M1636.6,1013.0 L1639.5,1015.7 L1640.7,1020.6 L1644.1,1022.0 L1639.5,1029.5 L1638.3,1035.0 L1643.0,1037.8 L1639.5,1041.9 L1634.9,1045.9 L1634.2,1050.0"/><path class="state" d="M1576.8,1044.3 L1588.8,1044.3 L1588.8,1051.4 L1601.3,1048.7 L1608.3,1050.0 L1611.7,1054.1 L1617.5,1056.8 L1618.7,1063.5"/><path class="state" d="M1588.8,1051.4 L1582.8,1060.8 L1579.3,1067.6 L1571.2,1074.2 L1563.1,1078.3"/><path class="state" d="M1631.5,1044.3 L1631.5,1061.5 L1640.1,1061.5"/><path class="state" d="M1442.8,946.2 L1440.5,954.9 L1435.3,962.1 L1434.7,974.3 L1444.0,979.2 L1452.1,986.3 L1453.0,992.0"/><path class="state" d="M1462.5,948.1 L1478.7,956.3 L1489.1,959.2 L1494.9,969.3"/><path class="state" d="M1659.7,970.6 L1659.7,990.6 L1660.9,1002.5 L1658.0,1012.3 L1656.3,1026.8"/><path class="state" d="M1660.9,1002.5 L1683.5,1003.2 L1688.1,1001.1"/><path class="state" d="M1658.0,1012.3 L1677.7,1013.0 L1682.3,1013.0 L1685.8,1019.9"/><path class="state" d="M1677.7,1013.0 L1677.7,1022.7"/><path class="state" d="M1669.0,1002.8 L1670.7,992.0 L1675.4,980.7 L1681.1,970.6"/><path class="state" d="M1686.0,966.4 L1687.2,987.8 L1690.4,997.6"/><path class="intl" d="M1081.8,912.3 L1407.5,912.3 L1407.5,906.6 L1411.6,907.8 L1413.9,916.7 L1423.1,919.7 L1437.0,920.5 L1450.9,926.4 L1467.1,925.6 L1471.7,927.1"/><path class="intl" d="M1625.6,982.1 L1637.2,972.8 L1644.1,970.7 L1681.1,970.6 L1685.8,966.4 L1695.0,957.8 L1698.5,946.2 L1707.8,935.2 L1718.2,936.7 L1724.0,940.8 L1724.0,960.6 L1728.6,962.1 L1733.2,970.7"/><path class="intl" d="M1153.6,1139.4 L1181.1,1137.0 L1223.3,1154.8 L1256.4,1154.8 L1256.4,1149.0 L1275.8,1149.0 L1279.7,1153.3 L1293.5,1163.1 L1299.3,1175.5 L1313.2,1184.3 L1320.2,1174.9 L1335.2,1174.6 L1343.3,1183.1 L1350.2,1194.4 L1357.2,1203.1 L1360.7,1214.3 L1372.2,1220.5 L1381.5,1223.6 L1384.4,1222.4"/><path class="coast" d="M1075.5,1049.2 L1078.8,1057.4 L1085.4,1064.0 L1091.1,1066.5 L1093.6,1075.5 L1096.9,1083.7 L1098.5,1090.3 L1105.1,1096.9 L1110.9,1105.1 L1114.2,1113.4 L1124.9,1116.7 L1136.4,1120.0 L1146.3,1125.7 L1151.2,1131.5 L1154.5,1138.1 L1159.5,1149.6 L1164.4,1159.5 L1169.3,1172.6 L1174.3,1179.2 L1182.5,1185.8 L1187.5,1192.4 L1188.3,1197.3 L1179.2,1200.6 L1184.2,1203.9 L1190.7,1212.2 L1200.6,1215.5 L1208.9,1220.4 L1212.1,1230.3 L1212.1,1236.9 L1220.4,1241.8 L1227.0,1250.0"/><path class="coast" d="M1180.9,1149.6 L1180.9,1161.1 L1181.7,1171.0 L1187.5,1177.6 L1197.3,1189.1 L1207.2,1202.3 L1215.5,1213.8 L1220.4,1222.0 L1225.3,1233.6 L1228.6,1243.4 L1231.1,1250.0"/><path class="coast" d="M1180.9,1149.6 L1182.5,1149.6 L1194.0,1152.1 L1199.0,1157.8 L1202.3,1167.7 L1210.5,1180.9 L1220.4,1194.0 L1228.6,1199.0 L1235.2,1207.2 L1241.8,1215.5 L1245.1,1225.3 L1255.0,1231.9 L1263.2,1240.1 L1268.1,1250.0"/><path class="coast" d="M1377.5,1250.0 L1379.4,1234.0 L1382.5,1222.8 L1381.2,1211.5 L1380.6,1205.2 L1384.4,1197.7 L1390.6,1191.4 L1399.4,1187.6 L1407.0,1183.9 L1410.7,1177.6 L1417.0,1176.3 L1427.0,1175.1 L1438.3,1176.3 L1445.9,1176.3 L1452.1,1178.8 L1454.7,1182.6 L1464.7,1182.6 L1472.2,1181.3 L1477.2,1182.6 L1473.5,1177.6 L1472.2,1172.6 L1467.2,1170.0 L1464.7,1168.2 L1469.7,1166.3 L1479.8,1166.3 L1492.3,1165.7 L1507.4,1166.3 L1514.9,1170.0 L1519.5,1173.5 L1524.9,1176.2 L1535.5,1171.5 L1542.2,1172.8 L1548.9,1181.5 L1551.6,1189.5 L1551.6,1198.9 L1554.2,1206.9 L1558.2,1213.6 L1562.2,1220.2 L1567.6,1228.2 L1571.6,1232.9 L1576.9,1230.9 L1580.9,1224.2 L1582.3,1209.5 L1579.6,1200.2 L1574.3,1186.8 L1568.9,1173.5 L1566.3,1162.8 L1566.9,1156.1 L1570.3,1146.8 L1576.9,1140.1 L1586.3,1133.4 L1593.0,1128.1 L1598.3,1122.7 L1607.7,1118.7 L1617.0,1112.1 L1623.7,1106.7 L1629.0,1102.7 L1634.4,1100.0 L1633.0,1092.0 L1630.0,1086.0 L1630.0,1080.0 L1632.5,1073.0 L1636.0,1063.7 L1639.1,1054.4 L1642.2,1049.7 L1645.4,1045.1 L1648.5,1038.9 L1650.0,1032.6 L1654.7,1028.0 L1662.4,1024.9 L1670.2,1023.3 L1679.5,1020.2 L1688.8,1018.7 L1696.6,1015.6 L1698.1,1020.2 L1694.5,1017.0 L1688.8,1007.8 L1687.3,1001.6 L1690.4,995.4 L1696.6,989.2 L1704.4,986.1 L1710.6,983.0 L1716.8,980.6 L1726.1,975.2 L1732.3,970.5 L1740.1,968.2 L1747.8,966.7 L1755.6,962.8 L1763.4,965.1"/><path class="coast" d="M1628.5,1082.0 L1625.5,1074.0 L1624.0,1066.0 L1625.5,1059.0 L1627.5,1053.0 L1629.5,1049.0"/><path class="coast" d="M1764.5,964.0 L1757.5,968.0 L1750.5,972.0 L1745.0,979.8 L1743.9,987.6 L1749.4,991.5 L1757.1,989.2 L1763.4,983.0 L1771.1,978.3 L1776.5,976.0"/><path class="coast" d="M1685.5,944.0 L1696.6,934.8 L1709.0,923.9 L1724.5,914.6 L1740.1,909.2 L1747.8,909.2 L1764.9,911.0 L1763.5,920.8 L1754.0,926.2 L1743.2,927.7 L1741.5,930.0 L1752.5,931.7 L1757.1,939.5 L1761.3,945.7 L1763.5,953.4 L1769.5,958.0"/><path class="coast" d="M1685.5,943.0 L1701.3,927.1 L1716.8,914.6 L1732.3,903.8 L1740.1,896.0"/><path class="coast" d="M1730.1,905.8 L1737.1,896.1 L1750.9,893.3 L1770.3,892.0 L1776.5,892.0"/><path class="coast" d="M1412.8,732.0 L1412.8,736.2 L1412.3,750.5 L1416.1,758.3 L1423.8,757.7 L1431.5,759.4 L1436.0,770.4 L1439.3,780.3 L1441.5,786.9 L1448.1,784.7 L1456.9,783.1 L1466.8,788.0 L1481.5,792.4 L1489.1,795.6 L1501.5,805.4 L1515.4,809.5 L1526.4,815.1 L1543.1,815.8 L1555.5,818.5 L1556.9,831.0 L1556.2,851.8 L1561.1,857.3 L1570.8,865.6 L1579.1,876.7 L1584.6,879.5 L1590.2,874.0 L1598.5,865.6 L1599.9,858.7 L1597.1,844.8 L1592.9,831.0 L1590.2,825.5 L1601.3,819.9 L1612.3,814.4 L1619.3,806.1 L1620.7,795.0 L1617.9,783.9 L1612.3,767.3 L1604.0,763.1 L1598.5,756.2 L1602.6,749.2 L1611.0,745.1 L1612.3,732.0"/><path class="coast" d="M1703.8,732.0 L1703.8,736.8 L1705.2,747.9 L1713.5,757.6 L1723.2,765.9 L1734.3,761.7 L1745.4,753.4 L1750.9,746.5 L1752.3,738.2 L1759.2,735.4 L1768.9,739.5 L1773.5,742.0"/><path class="coast" d="M1073.5,902.9 L1082.9,901.4 L1084.3,908.8 L1087.3,916.1 L1090.2,922.0 L1091.7,928.0 L1090.2,935.3 L1087.3,939.7 L1080.5,938.0 L1075.5,938.0"/><path class="coast" d="M1073.5,953.0 L1079.9,954.5"/><path class="coast" d="M1562.2,1240.3 L1567.6,1238.3 L1571.5,1236.0"/><path class="coast" d="M1443.1,946.6 L1452.6,940.3 L1463.1,931.8 L1475.8,922.4 L1488.4,912.9 L1499.0,915.5 L1508.5,916.6 L1513.7,926.6 L1524.3,928.2 L1527.4,936.1 L1528.5,948.7 L1521.1,946.6 L1511.6,947.7 L1500.0,950.8 L1494.8,946.6 L1487.4,941.3 L1490.5,936.6 L1484.2,940.3 L1476.8,942.4 L1468.4,946.6 L1461.0,947.7 L1456.8,943.4 L1450.5,946.6Z"/><path class="coast" d="M1490.5,976.1 L1496.9,963.5 L1505.3,959.3 L1515.8,957.1 L1523.2,958.2 L1520.1,961.4 L1514.8,966.6 L1512.7,971.9 L1509.5,980.3 L1509.5,996.1 L1510.0,1006.7 L1505.3,1016.2 L1499.0,1017.2 L1493.7,1013.0 L1491.6,1001.4 L1492.1,988.8 L1494.8,980.3Z"/><path class="coast" d="M1524.3,958.2 L1534.8,954.0 L1547.5,954.5 L1558.0,955.0 L1571.7,957.1 L1579.1,963.5 L1585.4,973.0 L1581.2,977.2 L1573.8,974.0 L1567.5,969.8 L1565.4,979.3 L1563.3,988.8 L1560.1,996.1 L1554.8,997.2 L1550.6,990.9 L1543.2,985.6 L1538.0,988.8 L1539.0,980.3 L1543.2,971.9 L1541.1,964.5 L1534.8,961.4 L1526.4,960.3Z"/><path class="coast" d="M1544.3,1016.2 L1549.6,1012.0 L1561.2,1007.7 L1571.7,1004.6 L1584.4,1000.4 L1592.8,999.3 L1596.0,1003.5 L1587.5,1007.7 L1579.1,1012.0 L1568.5,1016.2 L1558.0,1019.3 L1548.5,1020.4Z"/><path class="coast" d="M1587.5,993.0 L1591.7,987.7 L1605.4,985.6 L1617.0,983.5 L1626.5,980.3 L1627.6,990.9 L1616.0,994.0 L1602.3,994.0 L1589.6,996.1Z"/><path class="coast" d="M1361.8,839.4 L1369.5,838.5 L1377.7,840.4 L1381.5,847.0 L1385.6,855.3 L1389.5,864.0 L1393.6,875.2 L1395.6,887.1 L1389.6,893.1 L1387.5,884.0 L1385.6,875.2 L1379.5,869.0 L1373.7,863.2 L1367.5,856.0 L1365.8,851.3Z"/><path class="coast" d="M1337.9,849.3 L1345.5,850.0 L1353.8,853.3 L1350.5,860.0 L1351.8,867.2 L1357.5,870.0 L1361.8,873.2 L1364.5,879.0 L1367.8,885.1 L1373.7,893.1 L1367.8,895.0 L1362.5,888.0 L1357.8,879.1 L1349.9,871.2 L1345.5,864.0 L1343.9,857.3Z"/><path class="coast" d="M1327.9,768.2 L1332.3,775.9 L1329.0,780.3 L1324.6,791.3 L1318.0,796.9 L1320.2,788.0 L1321.3,778.1Z"/><path class="coast" d="M1223.0,758.1 L1231.8,753.7 L1237.7,744.8 L1245.1,741.9 L1259.9,744.8 L1265.8,749.3 L1256.9,752.2 L1237.7,753.7 L1231.8,759.6Z"/><path class="coast" d="M1561.1,853.0 L1566.5,849.0 L1573.5,852.0 L1569.5,857.3 L1563.5,856.5Z"/><path class="coast" d="M1583.5,798.0 L1589.5,794.5 L1594.3,797.0 L1592.5,805.0 L1585.5,806.0Z"/><path class="coast" d="M1594.3,1213.6 L1599.5,1215.5 L1605.0,1216.2 L1609.5,1214.5 L1614.3,1213.6 L1615.7,1221.6 L1613.5,1217.0 L1604.5,1218.0 L1595.5,1216.5Z"/><path class="coast" d="M1598.5,1233.0 L1602.5,1231.5 L1605.5,1236.0 L1608.5,1244.0 L1607.5,1250.0 L1601.5,1250.0 L1599.5,1242.0Z"/><path class="coast" d="M1621.0,1228.9 L1623.5,1231.0 L1626.3,1234.9 L1629.0,1237.6 L1626.5,1238.0 L1622.5,1233.0Z"/><path class="coast" d="M1633.0,1238.9 L1634.5,1241.0 L1636.4,1243.6 L1635.0,1244.0 L1632.5,1241.0Z"/><line x1="1120.0" y1="736.0" x2="1120.0" y2="1247.0" class="g"/>
<line x1="1235.7" y1="736.0" x2="1235.7" y2="1247.0" class="g"/>
<line x1="1351.4" y1="736.0" x2="1351.4" y2="1247.0" class="g"/>
<line x1="1467.1" y1="736.0" x2="1467.1" y2="1247.0" class="g"/>
<line x1="1582.8" y1="736.0" x2="1582.8" y2="1247.0" class="g"/>
<line x1="1698.5" y1="736.0" x2="1698.5" y2="1247.0" class="g"/>
<line x1="1076.0" y1="1171.7" x2="1771.0" y2="1171.7" class="g"/>
<line x1="1076.0" y1="1040.5" x2="1771.0" y2="1040.5" class="g"/>
<line x1="1076.0" y1="897.2" x2="1771.0" y2="897.2" class="g"/></g><rect x="1076.0" y="736.0" width="695.0" height="511.0" fill="none" stroke="#3a3a3a" stroke-width="1.6"/>
<text x="29.5" y="30.2" font-size="34" text-anchor="start" font-weight="bold" >a</text>
<text x="1030.5" y="30.6" font-size="34" text-anchor="start" font-weight="bold" >b</text>
<text x="29.5" y="696.5" font-size="34" text-anchor="start" font-weight="bold" >c</text>
<text x="1030.5" y="696.5" font-size="34" text-anchor="start" font-weight="bold" >d</text>
<text transform="translate(0.5,75.3) scale(0.89,1)" font-size="32" text-anchor="start" >60˚N</text>
<text transform="translate(0.5,237.3) scale(0.89,1)" font-size="32" text-anchor="start" >50˚N</text>
<text transform="translate(0.5,373.8) scale(0.89,1)" font-size="32" text-anchor="start" >40˚N</text>
<text transform="translate(0.5,509.4) scale(0.89,1)" font-size="32" text-anchor="start" >30˚N</text>
<text transform="translate(112.5,603.0) scale(0.89,1)" font-size="32" text-anchor="middle" >120˚W</text>
<text transform="translate(229.4,603.0) scale(0.89,1)" font-size="32" text-anchor="middle" >110˚W</text>
<text transform="translate(349.4,603.0) scale(0.89,1)" font-size="32" text-anchor="middle" >100˚W</text>
<text transform="translate(459.8,603.0) scale(0.89,1)" font-size="32" text-anchor="middle" >90˚W</text>
<text transform="translate(578.0,603.0) scale(0.89,1)" font-size="32" text-anchor="middle" >80˚W</text>
<text transform="translate(698.7,603.0) scale(0.89,1)" font-size="32" text-anchor="middle" >70˚W</text>
<text transform="translate(0.5,755.7) scale(0.89,1)" font-size="32" text-anchor="start" >60˚N</text>
<text transform="translate(0.5,915.7) scale(0.89,1)" font-size="32" text-anchor="start" >50˚N</text>
<text transform="translate(0.5,1050.5) scale(0.89,1)" font-size="32" text-anchor="start" >40˚N</text>
<text transform="translate(0.5,1187.2) scale(0.89,1)" font-size="32" text-anchor="start" >30˚N</text>
<text transform="translate(112.5,1281.2) scale(0.89,1)" font-size="32" text-anchor="middle" >120˚W</text>
<text transform="translate(229.4,1281.2) scale(0.89,1)" font-size="32" text-anchor="middle" >110˚W</text>
<text transform="translate(349.4,1281.2) scale(0.89,1)" font-size="32" text-anchor="middle" >100˚W</text>
<text transform="translate(459.8,1281.2) scale(0.89,1)" font-size="32" text-anchor="middle" >90˚W</text>
<text transform="translate(578.0,1281.2) scale(0.89,1)" font-size="32" text-anchor="middle" >80˚W</text>
<text transform="translate(698.7,1281.2) scale(0.89,1)" font-size="32" text-anchor="middle" >70˚W</text>
<text transform="translate(1002.0,748.2) scale(0.89,1)" font-size="32" text-anchor="start" >60˚N</text>
<text transform="translate(1002.0,910.1) scale(0.89,1)" font-size="32" text-anchor="start" >50˚N</text>
<text transform="translate(1002.0,1045.0) scale(0.89,1)" font-size="32" text-anchor="start" >40˚N</text>
<text transform="translate(1002.0,1180.8) scale(0.89,1)" font-size="32" text-anchor="start" >30˚N</text>
<text transform="translate(1111.0,1281.2) scale(0.89,1)" font-size="32" text-anchor="middle" >120˚W</text>
<text transform="translate(1227.9,1281.2) scale(0.89,1)" font-size="32" text-anchor="middle" >110˚W</text>
<text transform="translate(1347.9,1281.2) scale(0.89,1)" font-size="32" text-anchor="middle" >100˚W</text>
<text transform="translate(1458.3,1281.2) scale(0.89,1)" font-size="32" text-anchor="middle" >90˚W</text>
<text transform="translate(1576.5,1281.2) scale(0.89,1)" font-size="32" text-anchor="middle" >80˚W</text>
<text transform="translate(1697.2,1281.2) scale(0.89,1)" font-size="32" text-anchor="middle" >70˚W</text>
<text transform="translate(1001.5,86.7) scale(0.89,1)" font-size="32" text-anchor="start" >80˚N</text>
<text transform="translate(1001.5,242.2) scale(0.89,1)" font-size="32" text-anchor="start" >70˚N</text>
<text transform="translate(1001.5,371.6) scale(0.89,1)" font-size="32" text-anchor="start" >60˚N</text>
<text transform="translate(1001.5,476.6) scale(0.89,1)" font-size="32" text-anchor="start" >50˚N</text>
<text transform="translate(1001.5,565.5) scale(0.89,1)" font-size="32" text-anchor="start" >40˚N</text>
<text transform="translate(1071.6,594.8) scale(0.89,1)" font-size="32" text-anchor="middle" >140˚W</text>
<text transform="translate(1230.1,594.8) scale(0.89,1)" font-size="32" text-anchor="middle" >120˚W</text>
<text transform="translate(1384.5,594.8) scale(0.89,1)" font-size="32" text-anchor="middle" >100˚W</text>
<text transform="translate(1538.9,594.8) scale(0.89,1)" font-size="32" text-anchor="middle" >80˚W</text>
<text transform="translate(1693.3,594.8) scale(0.89,1)" font-size="32" text-anchor="middle" >60˚W</text>
<rect x="791.5" y="60.00" width="40.0" height="21.85" fill="#a01f2b"/>
<rect x="791.5" y="81.25" width="40.0" height="21.85" fill="#b61f27"/>
<rect x="791.5" y="102.50" width="40.0" height="21.85" fill="#c9282a"/>
<rect x="791.5" y="123.75" width="40.0" height="21.85" fill="#d6402f"/>
<rect x="791.5" y="145.00" width="40.0" height="21.85" fill="#e05a3a"/>
<rect x="791.5" y="166.25" width="40.0" height="21.85" fill="#e9744a"/>
<rect x="791.5" y="187.50" width="40.0" height="21.85" fill="#ee8c56"/>
<rect x="791.5" y="208.75" width="40.0" height="21.85" fill="#f2a460"/>
<rect x="791.5" y="230.00" width="40.0" height="21.85" fill="#f6bb6f"/>
<rect x="791.5" y="251.25" width="40.0" height="21.85" fill="#f8d081"/>
<rect x="791.5" y="272.50" width="40.0" height="21.85" fill="#f8e195"/>
<rect x="791.5" y="293.75" width="40.0" height="21.85" fill="#f5eeab"/>
<rect x="791.5" y="315.00" width="40.0" height="21.85" fill="#edf2df"/>
<rect x="791.5" y="336.25" width="40.0" height="21.85" fill="#e1eff0"/>
<rect x="791.5" y="357.50" width="40.0" height="21.85" fill="#d2e9f2"/>
<rect x="791.5" y="378.75" width="40.0" height="21.85" fill="#c0e0ed"/>
<rect x="791.5" y="400.00" width="40.0" height="21.85" fill="#a8d3e6"/>
<rect x="791.5" y="421.25" width="40.0" height="21.85" fill="#92c3dd"/>
<rect x="791.5" y="442.50" width="40.0" height="21.85" fill="#7bb0d3"/>
<rect x="791.5" y="463.75" width="40.0" height="21.85" fill="#6598c6"/>
<rect x="791.5" y="485.00" width="40.0" height="21.85" fill="#4e80b8"/>
<rect x="791.5" y="506.25" width="40.0" height="21.85" fill="#3f69ad"/>
<rect x="791.5" y="527.50" width="40.0" height="21.85" fill="#35519f"/>
<rect x="791.5" y="548.75" width="40.0" height="21.85" fill="#2d3a8e"/>
<rect x="791.5" y="60" width="40.0" height="510" fill="none" stroke="#222" stroke-width="1.2"/>
<text transform="translate(846.0,71.5) scale(0.89,1)" font-size="32" text-anchor="start" >30</text>
<line x1="825.5" y1="145.0" x2="831.5" y2="145.0" stroke="#222" stroke-width="1.3"/>
<text transform="translate(846.0,155.6) scale(0.89,1)" font-size="32" text-anchor="start" >20</text>
<line x1="825.5" y1="230.0" x2="831.5" y2="230.0" stroke="#222" stroke-width="1.3"/>
<text transform="translate(846.0,240.8) scale(0.89,1)" font-size="32" text-anchor="start" >10</text>
<line x1="825.5" y1="315.0" x2="831.5" y2="315.0" stroke="#222" stroke-width="1.3"/>
<text transform="translate(846.0,325.8) scale(0.89,1)" font-size="32" text-anchor="start" >0</text>
<line x1="825.5" y1="400.0" x2="831.5" y2="400.0" stroke="#222" stroke-width="1.3"/>
<text transform="translate(846.0,410.8) scale(0.89,1)" font-size="32" text-anchor="start" >-10</text>
<line x1="825.5" y1="485.0" x2="831.5" y2="485.0" stroke="#222" stroke-width="1.3"/>
<text transform="translate(846.0,495.8) scale(0.89,1)" font-size="32" text-anchor="start" >-20</text>
<text transform="translate(846.0,579.0) scale(0.89,1)" font-size="32" text-anchor="start" >-30</text>
<text transform="translate(924.2,321.8) rotate(-90) scale(0.915,1)" font-size="32" text-anchor="middle">ΔTemperature (˚C)</text>
<rect x="1791.5" y="73.50" width="39.299999999999955" height="30.87" fill="#2a2141"/>
<rect x="1791.5" y="103.77" width="39.299999999999955" height="30.87" fill="#3b2a6a"/>
<rect x="1791.5" y="134.04" width="39.299999999999955" height="30.87" fill="#5e3d94"/>
<rect x="1791.5" y="164.31" width="39.299999999999955" height="30.87" fill="#776ca3"/>
<rect x="1791.5" y="194.57" width="39.299999999999955" height="30.87" fill="#9a8fc0"/>
<rect x="1791.5" y="224.84" width="39.299999999999955" height="30.87" fill="#b9b2d8"/>
<rect x="1791.5" y="255.11" width="39.299999999999955" height="30.87" fill="#d7d8e8"/>
<rect x="1791.5" y="285.38" width="39.299999999999955" height="30.87" fill="#eceff8"/>
<rect x="1791.5" y="315.65" width="39.299999999999955" height="30.87" fill="#fbf1e6"/>
<rect x="1791.5" y="345.92" width="39.299999999999955" height="30.87" fill="#f9dfb8"/>
<rect x="1791.5" y="376.19" width="39.299999999999955" height="30.87" fill="#f5c080"/>
<rect x="1791.5" y="406.46" width="39.299999999999955" height="30.87" fill="#eea650"/>
<rect x="1791.5" y="436.72" width="39.299999999999955" height="30.87" fill="#dc8526"/>
<rect x="1791.5" y="466.99" width="39.299999999999955" height="30.87" fill="#c06a22"/>
<rect x="1791.5" y="497.26" width="39.299999999999955" height="30.87" fill="#9a5025"/>
<rect x="1791.5" y="527.53" width="39.299999999999955" height="30.87" fill="#7b3f22"/>
<rect x="1791.5" y="73.5" width="39.299999999999955" height="484.29999999999995" fill="none" stroke="#222" stroke-width="1.2"/>
<text transform="translate(1845.3,86.4) scale(0.89,1)" font-size="32" text-anchor="start" >2000</text>
<line x1="1824.8" y1="194.6" x2="1830.8" y2="194.6" stroke="#222" stroke-width="1.3"/>
<text transform="translate(1845.3,204.5) scale(0.89,1)" font-size="32" text-anchor="start" >1000</text>
<line x1="1824.8" y1="315.6" x2="1830.8" y2="315.6" stroke="#222" stroke-width="1.3"/>
<text transform="translate(1845.3,325.1) scale(0.89,1)" font-size="32" text-anchor="start" >0</text>
<line x1="1824.8" y1="436.7" x2="1830.8" y2="436.7" stroke="#222" stroke-width="1.3"/>
<text transform="translate(1845.3,444.7) scale(0.89,1)" font-size="32" text-anchor="start" >-1000</text>
<text transform="translate(1845.3,561.9) scale(0.89,1)" font-size="32" text-anchor="start" >-2000</text>
<text transform="translate(1984.5,363.5) rotate(-90) scale(0.915,1)" font-size="32" text-anchor="middle">Δ Ice sheet thickness (m)</text>
<rect x="791.5" y="735.30" width="40.0" height="21.88" fill="#2a2240"/>
<rect x="791.5" y="756.58" width="40.0" height="21.88" fill="#302a55"/>
<rect x="791.5" y="777.86" width="40.0" height="21.88" fill="#4a2580"/>
<rect x="791.5" y="799.14" width="40.0" height="21.88" fill="#5e3f91"/>
<rect x="791.5" y="820.42" width="40.0" height="21.88" fill="#6d5a9c"/>
<rect x="791.5" y="841.70" width="40.0" height="21.88" fill="#7d70aa"/>
<rect x="791.5" y="862.97" width="40.0" height="21.88" fill="#9388bb"/>
<rect x="791.5" y="884.25" width="40.0" height="21.88" fill="#a69dc8"/>
<rect x="791.5" y="905.53" width="40.0" height="21.88" fill="#bbb3d8"/>
<rect x="791.5" y="926.81" width="40.0" height="21.88" fill="#d0cfe5"/>
<rect x="791.5" y="948.09" width="40.0" height="21.88" fill="#e1e3f0"/>
<rect x="791.5" y="969.37" width="40.0" height="21.88" fill="#f0f1f6"/>
<rect x="791.5" y="990.65" width="40.0" height="21.88" fill="#f7f1ea"/>
<rect x="791.5" y="1011.93" width="40.0" height="21.88" fill="#fae7cc"/>
<rect x="791.5" y="1033.21" width="40.0" height="21.88" fill="#fbdcb2"/>
<rect x="791.5" y="1054.49" width="40.0" height="21.88" fill="#f7c98e"/>
<rect x="791.5" y="1075.77" width="40.0" height="21.88" fill="#f1b06a"/>
<rect x="791.5" y="1097.05" width="40.0" height="21.88" fill="#eb9e48"/>
<rect x="791.5" y="1118.33" width="40.0" height="21.88" fill="#e18b2c"/>
<rect x="791.5" y="1139.60" width="40.0" height="21.88" fill="#cf7419"/>
<rect x="791.5" y="1160.88" width="40.0" height="21.88" fill="#bb621d"/>
<rect x="791.5" y="1182.16" width="40.0" height="21.88" fill="#a25322"/>
<rect x="791.5" y="1203.44" width="40.0" height="21.88" fill="#8f4623"/>
<rect x="791.5" y="1224.72" width="40.0" height="21.88" fill="#7a3b21"/>
<rect x="791.5" y="735.3" width="40.0" height="510.70000000000005" fill="none" stroke="#222" stroke-width="1.2"/>
<text transform="translate(846.0,746.0) scale(0.89,1)" font-size="32" text-anchor="start" >200</text>
<line x1="825.5" y1="863.0" x2="831.5" y2="863.0" stroke="#222" stroke-width="1.3"/>
<text transform="translate(846.0,872.1) scale(0.89,1)" font-size="32" text-anchor="start" >100</text>
<line x1="825.5" y1="990.7" x2="831.5" y2="990.7" stroke="#222" stroke-width="1.3"/>
<text transform="translate(846.0,999.6) scale(0.89,1)" font-size="32" text-anchor="start" >0</text>
<line x1="825.5" y1="1118.4" x2="831.5" y2="1118.4" stroke="#222" stroke-width="1.3"/>
<text transform="translate(846.0,1127.4) scale(0.89,1)" font-size="32" text-anchor="start" >-100</text>
<text transform="translate(846.0,1251.2) scale(0.89,1)" font-size="32" text-anchor="start" >-200</text>
<text transform="translate(942.3,1004) rotate(-90) scale(0.915,1)" font-size="32" text-anchor="middle">Δ Reflected solar radiation (%)</text>
<rect x="1792.3" y="735.30" width="40.0" height="32.52" fill="#2a2141"/>
<rect x="1792.3" y="767.22" width="40.0" height="32.52" fill="#3b2a6a"/>
<rect x="1792.3" y="799.14" width="40.0" height="32.52" fill="#5e3d94"/>
<rect x="1792.3" y="831.06" width="40.0" height="32.52" fill="#776ca3"/>
<rect x="1792.3" y="862.97" width="40.0" height="32.52" fill="#9a8fc0"/>
<rect x="1792.3" y="894.89" width="40.0" height="32.52" fill="#b9b2d8"/>
<rect x="1792.3" y="926.81" width="40.0" height="32.52" fill="#d7d8e8"/>
<rect x="1792.3" y="958.73" width="40.0" height="32.52" fill="#eceff8"/>
<rect x="1792.3" y="990.65" width="40.0" height="32.52" fill="#fbf1e6"/>
<rect x="1792.3" y="1022.57" width="40.0" height="32.52" fill="#f9dfb8"/>
<rect x="1792.3" y="1054.49" width="40.0" height="32.52" fill="#f5c080"/>
<rect x="1792.3" y="1086.41" width="40.0" height="32.52" fill="#eea650"/>
<rect x="1792.3" y="1118.33" width="40.0" height="32.52" fill="#dc8526"/>
<rect x="1792.3" y="1150.24" width="40.0" height="32.52" fill="#c06a22"/>
<rect x="1792.3" y="1182.16" width="40.0" height="32.52" fill="#9a5025"/>
<rect x="1792.3" y="1214.08" width="40.0" height="32.52" fill="#7b3f22"/>
<rect x="1792.3" y="735.3" width="40.0" height="510.70000000000005" fill="none" stroke="#222" stroke-width="1.2"/>
<text transform="translate(1846.8,746.4) scale(0.89,1)" font-size="32" text-anchor="start" >80</text>
<line x1="1826.3" y1="799.1" x2="1832.3" y2="799.1" stroke="#222" stroke-width="1.3"/>
<text transform="translate(1846.8,807.9) scale(0.89,1)" font-size="32" text-anchor="start" >60</text>
<line x1="1826.3" y1="863.0" x2="1832.3" y2="863.0" stroke="#222" stroke-width="1.3"/>
<text transform="translate(1846.8,871.0) scale(0.89,1)" font-size="32" text-anchor="start" >40</text>
<line x1="1826.3" y1="926.8" x2="1832.3" y2="926.8" stroke="#222" stroke-width="1.3"/>
<text transform="translate(1846.8,935.5) scale(0.89,1)" font-size="32" text-anchor="start" >20</text>
<line x1="1826.3" y1="990.7" x2="1832.3" y2="990.7" stroke="#222" stroke-width="1.3"/>
<text transform="translate(1846.8,999.1) scale(0.89,1)" font-size="32" text-anchor="start" >0</text>
<line x1="1826.3" y1="1054.5" x2="1832.3" y2="1054.5" stroke="#222" stroke-width="1.3"/>
<text transform="translate(1846.8,1063.0) scale(0.89,1)" font-size="32" text-anchor="start" >-20</text>
<line x1="1826.3" y1="1118.3" x2="1832.3" y2="1118.3" stroke="#222" stroke-width="1.3"/>
<text transform="translate(1846.8,1126.8) scale(0.89,1)" font-size="32" text-anchor="start" >-40</text>
<line x1="1826.3" y1="1182.2" x2="1832.3" y2="1182.2" stroke="#222" stroke-width="1.3"/>
<text transform="translate(1846.8,1190.6) scale(0.89,1)" font-size="32" text-anchor="start" >-60</text>
<text transform="translate(1846.8,1251.5) scale(0.89,1)" font-size="32" text-anchor="start" >-80</text>
<text transform="translate(1946.3,1014) rotate(-90) scale(0.915,1)" font-size="32" text-anchor="middle">Δ Snow cover (%)</text>
</svg>
</body></html>
